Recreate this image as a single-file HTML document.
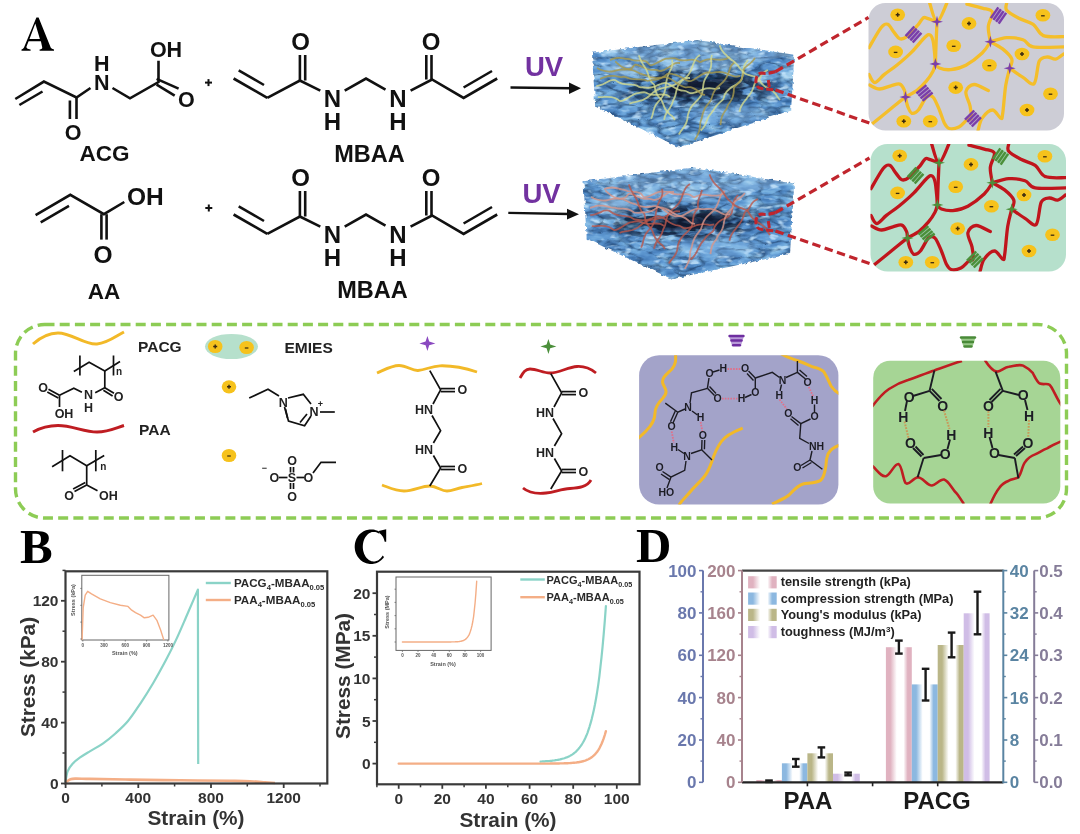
<!DOCTYPE html>
<html><head><meta charset="utf-8"><style>
html,body{margin:0;padding:0;background:#fff;}
svg{display:block;filter:blur(0.65px);}
</style></head><body>
<svg width="1080" height="834" viewBox="0 0 1080 834">
<rect width="1080" height="834" fill="#fff"/>
<text x="20.0" y="562.5" font-family='"Liberation Serif", serif' font-size="49" font-weight="bold" fill="#000" text-anchor="start" >B</text>
<path d="M379.15,531.72 L378.05,531.10 L376.90,530.57 L375.72,530.14 L374.52,529.81 L373.29,529.57 L372.05,529.44 L370.81,529.40 L369.56,529.47 L368.32,529.63 L367.10,529.90 L365.90,530.27 L364.74,530.73 L363.60,531.28 L362.52,531.93 L361.48,532.66 L360.49,533.47 L359.57,534.36 L358.72,535.33 L357.93,536.36 L357.23,537.45 L356.60,538.59 L356.06,539.78 L355.61,541.02 L355.24,542.28 L354.97,543.57 L354.79,544.88 L354.71,546.20 L354.72,547.52 L354.83,548.84 L355.03,550.15 L355.32,551.43 L355.71,552.69 L356.19,553.92 L356.75,555.10 L357.39,556.23 L358.12,557.30 L358.92,558.32 L359.79,559.26 L360.73,560.14 L361.73,560.93 L362.78,561.64 L363.88,562.26 L365.02,562.79 L366.20,563.23 L367.40,563.57 L368.63,563.82 L369.87,563.96 L371.11,564.00 L372.36,563.94 L373.60,563.78 L374.82,563.52 L376.02,563.16 L377.19,562.70 L378.32,562.16 L379.42,561.52 L380.46,560.79 L381.44,559.98 L382.37,559.10 L383.23,558.14 L384.02,557.11 L382.58,555.61 L382.05,556.48 L381.47,557.30 L380.85,558.06 L380.18,558.75 L379.48,559.37 L378.74,559.92 L377.98,560.39 L377.19,560.78 L376.38,561.09 L375.55,561.31 L374.72,561.45 L373.88,561.50 L373.04,561.46 L372.20,561.34 L371.37,561.14 L370.56,560.84 L369.77,560.47 L369.00,560.01 L368.25,559.48 L367.54,558.87 L366.87,558.19 L366.24,557.45 L365.65,556.64 L365.11,555.77 L364.62,554.85 L364.18,553.88 L363.80,552.87 L363.48,551.83 L363.22,550.75 L363.02,549.65 L362.88,548.53 L362.81,547.41 L362.80,546.27 L362.86,545.14 L362.98,544.02 L363.16,542.92 L363.41,541.84 L363.72,540.78 L364.08,539.76 L364.51,538.78 L364.98,537.85 L365.51,536.97 L366.09,536.15 L366.71,535.38 L367.37,534.69 L368.07,534.06 L368.81,533.51 L369.57,533.04 L370.36,532.64 L371.17,532.33 L371.99,532.10 L372.83,531.96 L373.67,531.90 L374.51,531.93 L375.35,532.05 L376.17,532.25 L376.99,532.54 L377.78,532.90 L378.56,533.35 L379.30,533.88 Z" fill="#000"/>
<path d="M378.6,531 L386.2,529.3 L386.2,541.8 L384.7,541.8 Q383.5,536 379.5,533 Z" fill="#000"/>
<text x="636.0" y="562.0" font-family='"Liberation Serif", serif' font-size="49" font-weight="bold" fill="#000" text-anchor="start" >D</text>
<path fill-rule="evenodd" fill="#000" d="M21.5,50.7 L21.5,49.4 Q23.2,49.2 24,47.6 L36.4,17.6 L38.6,17.6 L50.8,47.8 Q51.6,49.2 54,49.4 L54,50.7 L39.6,50.7 L39.6,49.4 Q42.6,49.3 42.2,47.2 L40.9,41.2 L28.6,41.2 L26.5,46.6 Q25.8,49.1 30.6,49.4 L30.6,50.7 Z M35.3,23.5 L39.9,38.9 L29.5,38.9 Z"/>
<polyline points="15.3,99.0 43.9,81.6 76.5,97.5 90.5,88.0" fill="none" stroke="#111" stroke-width="2.6" stroke-linejoin="miter" />
<line x1="19.4" y1="105.0" x2="42.5" y2="91.5" stroke="#111" stroke-width="2.6" />
<line x1="76.5" y1="97.5" x2="76.5" y2="119.0" stroke="#111" stroke-width="2.6" />
<line x1="69.9" y1="100.5" x2="69.9" y2="119.0" stroke="#111" stroke-width="2.6" />
<text x="101.8" y="89.5" font-family='"Liberation Sans", sans-serif' font-size="21.5" font-weight="bold" fill="#111" text-anchor="middle" >N</text>
<text x="101.8" y="70.5" font-family='"Liberation Sans", sans-serif' font-size="21.5" font-weight="bold" fill="#111" text-anchor="middle" >H</text>
<polyline points="112.5,88.0 130.0,98.3 158.5,82.1 158.5,60.7" fill="none" stroke="#111" stroke-width="2.6" stroke-linejoin="miter" />
<line x1="156.6" y1="78.9" x2="178.6" y2="88.6" stroke="#111" stroke-width="2.6" />
<line x1="156.6" y1="84.7" x2="174.7" y2="95.7" stroke="#111" stroke-width="2.6" />
<text x="166.0" y="57.0" font-family='"Liberation Sans", sans-serif' font-size="21.5" font-weight="bold" fill="#111" text-anchor="middle" >OH</text>
<text x="186.4" y="106.5" font-family='"Liberation Sans", sans-serif' font-size="21.5" font-weight="bold" fill="#111" text-anchor="middle" >O</text>
<text x="73.0" y="139.5" font-family='"Liberation Sans", sans-serif' font-size="21.5" font-weight="bold" fill="#111" text-anchor="middle" >O</text>
<text x="104.5" y="161.0" font-family='"Liberation Sans", sans-serif' font-size="22.5" font-weight="bold" fill="#111" text-anchor="middle" >ACG</text>
<line x1="205.0" y1="82.6" x2="212.0" y2="82.6" stroke="#111" stroke-width="2" />
<line x1="208.5" y1="79.1" x2="208.5" y2="86.1" stroke="#111" stroke-width="2" />
<line x1="205.3" y1="208.0" x2="212.3" y2="208.0" stroke="#111" stroke-width="2" />
<line x1="208.8" y1="204.5" x2="208.8" y2="211.5" stroke="#111" stroke-width="2" />
<line x1="233.6" y1="78.5" x2="267.3" y2="97.9" stroke="#111" stroke-width="2.6" />
<line x1="238.7" y1="70.3" x2="264.0" y2="85.0" stroke="#111" stroke-width="2.6" />
<polyline points="267.3,97.9 299.9,80.5 320.3,90.7" fill="none" stroke="#111" stroke-width="2.6" stroke-linejoin="miter" />
<line x1="299.9" y1="80.5" x2="299.9" y2="55.0" stroke="#111" stroke-width="2.6" />
<line x1="305.2" y1="80.5" x2="305.2" y2="55.0" stroke="#111" stroke-width="2.6" />
<text x="300.5" y="50.0" font-family='"Liberation Sans", sans-serif' font-size="24" font-weight="bold" fill="#111" text-anchor="middle" >O</text>
<text x="332.5" y="107.0" font-family='"Liberation Sans", sans-serif' font-size="24" font-weight="bold" fill="#111" text-anchor="middle" >N</text>
<text x="332.5" y="129.5" font-family='"Liberation Sans", sans-serif' font-size="24" font-weight="bold" fill="#111" text-anchor="middle" >H</text>
<polyline points="344.7,90.7 366.0,78.5 385.5,89.7" fill="none" stroke="#111" stroke-width="2.6" stroke-linejoin="miter" />
<text x="397.8" y="107.0" font-family='"Liberation Sans", sans-serif' font-size="24" font-weight="bold" fill="#111" text-anchor="middle" >N</text>
<text x="397.8" y="129.5" font-family='"Liberation Sans", sans-serif' font-size="24" font-weight="bold" fill="#111" text-anchor="middle" >H</text>
<polyline points="410.6,90.7 432.0,79.5 463.6,97.9 497.2,78.5" fill="none" stroke="#111" stroke-width="2.6" stroke-linejoin="miter" />
<line x1="431.5" y1="79.5" x2="431.5" y2="55.0" stroke="#111" stroke-width="2.6" />
<line x1="426.3" y1="79.5" x2="426.3" y2="55.0" stroke="#111" stroke-width="2.6" />
<text x="431.0" y="50.0" font-family='"Liberation Sans", sans-serif' font-size="24" font-weight="bold" fill="#111" text-anchor="middle" >O</text>
<line x1="463.6" y1="87.5" x2="492.0" y2="71.0" stroke="#111" stroke-width="2.6" />
<text x="369.5" y="161.5" font-family='"Liberation Sans", sans-serif' font-size="23.5" font-weight="bold" fill="#111" text-anchor="middle" >MBAA</text>
<line x1="233.6" y1="214.5" x2="267.3" y2="233.9" stroke="#111" stroke-width="2.6" />
<line x1="238.7" y1="206.3" x2="264.0" y2="221.0" stroke="#111" stroke-width="2.6" />
<polyline points="267.3,233.9 299.9,216.5 320.3,226.7" fill="none" stroke="#111" stroke-width="2.6" stroke-linejoin="miter" />
<line x1="299.9" y1="216.5" x2="299.9" y2="191.0" stroke="#111" stroke-width="2.6" />
<line x1="305.2" y1="216.5" x2="305.2" y2="191.0" stroke="#111" stroke-width="2.6" />
<text x="300.5" y="186.0" font-family='"Liberation Sans", sans-serif' font-size="24" font-weight="bold" fill="#111" text-anchor="middle" >O</text>
<text x="332.5" y="243.0" font-family='"Liberation Sans", sans-serif' font-size="24" font-weight="bold" fill="#111" text-anchor="middle" >N</text>
<text x="332.5" y="265.5" font-family='"Liberation Sans", sans-serif' font-size="24" font-weight="bold" fill="#111" text-anchor="middle" >H</text>
<polyline points="344.7,226.7 366.0,214.5 385.5,225.7" fill="none" stroke="#111" stroke-width="2.6" stroke-linejoin="miter" />
<text x="397.8" y="243.0" font-family='"Liberation Sans", sans-serif' font-size="24" font-weight="bold" fill="#111" text-anchor="middle" >N</text>
<text x="397.8" y="265.5" font-family='"Liberation Sans", sans-serif' font-size="24" font-weight="bold" fill="#111" text-anchor="middle" >H</text>
<polyline points="410.6,226.7 432.0,215.5 463.6,233.9 497.2,214.5" fill="none" stroke="#111" stroke-width="2.6" stroke-linejoin="miter" />
<line x1="431.5" y1="215.5" x2="431.5" y2="191.0" stroke="#111" stroke-width="2.6" />
<line x1="426.3" y1="215.5" x2="426.3" y2="191.0" stroke="#111" stroke-width="2.6" />
<text x="431.0" y="186.0" font-family='"Liberation Sans", sans-serif' font-size="24" font-weight="bold" fill="#111" text-anchor="middle" >O</text>
<line x1="463.6" y1="223.5" x2="492.0" y2="207.0" stroke="#111" stroke-width="2.6" />
<text x="372.5" y="297.5" font-family='"Liberation Sans", sans-serif' font-size="23.5" font-weight="bold" fill="#111" text-anchor="middle" >MBAA</text>
<polyline points="35.6,215.2 70.3,194.8 103.9,214.2 124.3,202.0" fill="none" stroke="#111" stroke-width="2.6" stroke-linejoin="miter" />
<line x1="40.7" y1="222.3" x2="69.0" y2="205.8" stroke="#111" stroke-width="2.6" />
<line x1="101.4" y1="214.2" x2="101.4" y2="239.6" stroke="#111" stroke-width="2.6" />
<line x1="106.6" y1="214.2" x2="106.6" y2="239.6" stroke="#111" stroke-width="2.6" />
<text x="145.3" y="204.5" font-family='"Liberation Sans", sans-serif' font-size="24.5" font-weight="bold" fill="#111" text-anchor="middle" >OH</text>
<text x="103.0" y="262.5" font-family='"Liberation Sans", sans-serif' font-size="24.5" font-weight="bold" fill="#111" text-anchor="middle" >O</text>
<text x="104.0" y="298.5" font-family='"Liberation Sans", sans-serif' font-size="22.5" font-weight="bold" fill="#111" text-anchor="middle" >AA</text>
<text x="544.0" y="75.8" font-family='"Liberation Sans", sans-serif' font-size="27.5" font-weight="bold" fill="#7232a0" text-anchor="middle" >UV</text>
<line x1="510.5" y1="87.5" x2="572.0" y2="88.2" stroke="#111" stroke-width="2.4" />
<polygon points="569,82.6 581,88.3 569,94" fill="#111"/>
<text x="541.5" y="202.5" font-family='"Liberation Sans", sans-serif' font-size="27.5" font-weight="bold" fill="#7232a0" text-anchor="middle" >UV</text>
<line x1="508.3" y1="212.9" x2="569.0" y2="214.0" stroke="#111" stroke-width="2.4" />
<polygon points="567,208.8 579,214.2 567,219.6" fill="#111"/>
<defs>
<filter id="tex" x="0" y="0" width="100%" height="100%" color-interpolation-filters="sRGB">
 <feTurbulence type="fractalNoise" baseFrequency="0.05 0.11" numOctaves="3" seed="7" result="n"/>
 <feColorMatrix in="n" type="matrix" values="1 0 0 0 0  1 0 0 0 0  1 0 0 0 0  0 0 0 0 1" result="g"/>
 <feComponentTransfer in="g">
  <feFuncR type="table" tableValues="0.12 0.22 0.31 0.40 0.52 0.70 0.88"/>
  <feFuncG type="table" tableValues="0.28 0.42 0.53 0.63 0.74 0.86 0.96"/>
  <feFuncB type="table" tableValues="0.46 0.64 0.77 0.85 0.91 0.96 0.99"/>
 </feComponentTransfer>
</filter>
<filter id="tex2" x="0" y="0" width="100%" height="100%" color-interpolation-filters="sRGB">
 <feTurbulence type="turbulence" baseFrequency="0.05 0.12" numOctaves="2" seed="4" result="n"/>
 <feColorMatrix in="n" type="matrix" values="0 0 0 0 0.06  0 0 0 0 0.16  0 0 0 0 0.30  -3.6 0 0 0 1.05" />
 <feGaussianBlur stdDeviation="0.5"/>
</filter>
<filter id="tex3" x="0" y="0" width="100%" height="100%" color-interpolation-filters="sRGB">
 <feTurbulence type="fractalNoise" baseFrequency="0.09 0.2" numOctaves="2" seed="12" result="n"/>
 <feColorMatrix in="n" type="matrix" values="0 0 0 0 0.78  0 0 0 0 0.9  0 0 0 0 0.99  5 0 0 0 -2.9" />
</filter>
<filter id="dk" x="0" y="0" width="100%" height="100%" color-interpolation-filters="sRGB">
 <feTurbulence type="fractalNoise" baseFrequency="0.07 0.17" numOctaves="2" seed="21" result="n"/>
 <feColorMatrix in="n" type="matrix" values="0 0 0 0 0.03  0 0 0 0 0.08  0 0 0 0 0.17  -8 0 0 0 4.5" />
</filter>
<radialGradient id="bandg" cx="0.5" cy="0.5" r="0.5"><stop offset="0" stop-color="#fff"/><stop offset="0.6" stop-color="#fff" stop-opacity="0.7"/><stop offset="1" stop-color="#fff" stop-opacity="0"/></radialGradient>
<filter id="rough" x="-5%" y="-5%" width="110%" height="110%">
 <feTurbulence type="fractalNoise" baseFrequency="0.22" numOctaves="2" seed="2" result="t"/>
 <feDisplacementMap in="SourceGraphic" in2="t" scale="4" xChannelSelector="R" yChannelSelector="G"/>
</filter>
<filter id="soft"><feGaussianBlur stdDeviation="2.5"/></filter>
<filter id="sb" x="-30%" y="-30%" width="160%" height="160%"><feGaussianBlur stdDeviation="0.7"/></filter>
<mask id="mk1"><polygon points="592,52.7 697.4,39.9 794.3,54.8 791.1,110.2 679,147.4 595.2,105.9" fill="#fff" filter="url(#rough)"/></mask>
<mask id="mk2"><polygon points="583.5,181.3 694.2,167.5 794.3,183.4 790,253.7 672,279.3 586.7,238.8" fill="#fff" filter="url(#rough)"/></mask>
</defs>
<g mask="url(#mk1)">
<rect x="586" y="33.9" width="214.29999999999995" height="119.5" fill="#4f84ba"/>
<rect x="586" y="33.9" width="214.29999999999995" height="119.5" filter="url(#tex)" opacity="0.9"/>
<rect x="586" y="33.9" width="214.29999999999995" height="119.5" filter="url(#tex2)" opacity="0.5"/>
<rect x="586" y="33.9" width="214.29999999999995" height="119.5" filter="url(#tex3)" opacity="0.8"/>
<polygon points="592,52.7 697.4,39.9 794.3,54.8 696.9,73.6" fill="#cfe6fa" opacity="0.22"/>
<mask id="bmmk1"><ellipse cx="695" cy="88" rx="95" ry="22" fill="url(#bandg)"/></mask>
<rect x="586" y="33.9" width="214.29999999999995" height="119.5" filter="url(#dk)" mask="url(#bmmk1)" opacity="1"/>
<g filter="url(#soft)"><ellipse cx="705" cy="88" rx="40" ry="8" fill="#0b1c30" opacity="0.8" transform="rotate(-6 705 88)"/><ellipse cx="647" cy="90" rx="14" ry="4" fill="#12304d" opacity="0.6"/><ellipse cx="625" cy="70" rx="22" ry="6" fill="#bfe0f7" opacity="0.45"/><ellipse cx="730" cy="114" rx="40" ry="9" fill="#8ec0ea" opacity="0.35"/></g>
<path d="M597.0,68.0 C597.7,68.3 599.8,69.5 601.3,70.0 C602.7,70.5 604.2,71.0 605.7,71.2 C607.2,71.5 608.9,71.6 610.4,71.5 C611.9,71.5 613.2,71.1 614.6,70.8 C616.0,70.5 617.3,70.0 618.7,69.8 C620.1,69.6 621.6,69.7 623.0,69.6 C624.4,69.5 625.9,69.6 627.3,69.4 C628.7,69.2 630.0,69.2 631.4,68.4 C632.7,67.6 633.9,65.2 635.2,64.7 C636.5,64.3 638.0,65.2 639.3,65.7 C640.7,66.1 642.0,66.8 643.3,67.4 C644.7,67.9 646.0,68.6 647.3,69.0 C648.7,69.5 650.1,69.8 651.5,69.9 C652.9,70.0 654.3,69.7 655.8,69.8 C657.2,70.0 658.9,71.0 660.3,71.0 C661.8,71.0 663.1,70.3 664.4,69.8 C665.7,69.2 666.9,68.4 668.2,67.7 C669.4,66.9 670.6,66.0 671.8,65.2 C673.0,64.5 674.2,63.6 675.6,63.2 C676.9,62.8 679.3,63.0 680.0,63.0" fill="none" stroke="#a89a4c" stroke-width="1.8" opacity="0.8"/>
<path d="M596.3,86.1 C597.1,85.9 599.5,85.5 601.1,84.9 C602.6,84.4 604.1,83.6 605.6,82.9 C607.1,82.2 608.5,81.0 610.1,80.6 C611.6,80.1 613.5,79.8 615.0,80.1 C616.4,80.4 617.5,81.8 618.8,82.4 C620.2,83.0 621.5,83.5 623.0,83.8 C624.4,84.2 625.9,84.3 627.4,84.4 C628.9,84.5 630.4,84.5 631.9,84.7 C633.4,84.8 634.9,85.0 636.2,85.4 C637.6,85.8 638.5,86.8 639.9,87.1 C641.2,87.5 642.8,87.4 644.2,87.5 C645.6,87.6 647.1,87.8 648.5,87.8 C649.9,87.7 651.3,87.5 652.7,87.2 C654.1,86.9 655.4,86.3 656.7,85.7 C658.1,85.2 659.3,84.4 660.7,84.0 C662.2,83.5 663.9,82.7 665.4,82.8 C666.8,82.9 668.1,83.8 669.4,84.5 C670.7,85.2 672.0,86.1 673.3,86.9 C674.6,87.6 675.8,88.5 677.2,89.1 C678.5,89.7 679.9,90.2 681.3,90.5 C682.7,90.8 684.2,90.6 685.7,91.0 C687.2,91.5 688.7,92.9 690.2,93.1 C691.6,93.4 693.0,92.9 694.4,92.6 C695.9,92.3 697.2,91.7 698.6,91.2 C700.0,90.7 701.4,90.0 702.8,89.5 C704.1,89.1 705.5,88.6 707.0,88.4 C708.4,88.2 709.9,88.2 711.3,88.3 C712.8,88.4 714.3,88.9 715.7,88.8 C717.2,88.8 719.3,88.1 720.0,88.0" fill="none" stroke="#d4dc90" stroke-width="1.8" opacity="0.8"/>
<path d="M597.8,97.2 C598.5,97.2 600.8,97.2 602.3,97.1 C603.9,97.0 605.4,96.8 606.9,96.8 C608.5,96.8 610.0,96.9 611.4,97.1 C612.9,97.4 614.3,97.7 615.7,98.4 C617.2,99.1 618.9,100.9 620.4,101.1 C621.8,101.3 623.2,100.4 624.5,99.8 C625.9,99.2 627.1,98.4 628.4,97.6 C629.7,96.8 630.9,95.9 632.3,95.2 C633.6,94.5 634.9,93.9 636.3,93.4 C637.7,93.0 639.1,92.8 640.6,92.6 C642.0,92.4 643.5,92.1 644.9,92.3 C646.3,92.5 647.6,93.6 648.9,94.0 C650.3,94.4 651.7,94.7 653.1,94.8 C654.5,94.9 656.0,94.8 657.4,94.8 C658.9,94.7 660.4,94.5 661.8,94.5 C663.3,94.5 664.7,94.5 666.1,94.9 C667.5,95.3 669.3,96.6 670.0,97.0" fill="none" stroke="#d4dc90" stroke-width="1.8" opacity="0.8"/>
<path d="M610.0,60.2 C610.7,59.9 612.6,59.1 613.9,58.7 C615.2,58.3 616.5,58.0 617.9,57.9 C619.2,57.8 620.6,57.9 621.9,58.1 C623.3,58.2 624.8,58.6 626.0,58.8 C627.3,59.0 628.4,58.9 629.6,59.2 C630.9,59.4 632.3,60.0 633.7,60.3 C635.1,60.5 636.5,60.5 638.0,60.6 C639.4,60.6 640.9,60.6 642.3,60.7 C643.7,60.9 645.0,60.8 646.4,61.6 C647.7,62.3 648.9,64.8 650.3,65.2 C651.6,65.6 653.1,64.6 654.4,64.1 C655.8,63.6 657.1,62.8 658.4,62.1 C659.7,61.5 661.0,60.7 662.3,60.1 C663.6,59.5 665.0,59.0 666.4,58.7 C667.8,58.5 669.2,58.4 670.7,58.3 C672.1,58.3 673.5,58.2 674.9,58.4 C676.3,58.7 677.6,59.6 679.0,59.9 C680.3,60.2 681.7,60.4 683.2,60.4 C684.6,60.4 686.0,60.2 687.5,60.1 C688.9,60.0 690.4,59.7 691.8,59.7 C693.2,59.7 694.7,59.7 696.0,60.1 C697.4,60.5 698.7,62.0 700.0,62.1 C701.4,62.1 702.7,60.8 704.1,60.3 C705.5,59.9 706.9,59.5 708.4,59.3 C709.8,59.1 711.3,59.2 712.8,59.2 C714.2,59.3 715.7,59.6 717.2,59.6 C718.7,59.7 720.2,59.8 721.6,59.7 C723.1,59.5 724.5,59.2 725.9,58.8 C727.3,58.3 729.3,57.3 730.0,57.0" fill="none" stroke="#a89a4c" stroke-width="1.8" opacity="0.8"/>
<path d="M664.1,119.7 C664.3,119.0 664.7,116.9 665.2,115.6 C665.7,114.3 666.5,113.0 667.2,111.8 C668.0,110.6 668.9,109.4 669.7,108.2 C670.5,106.9 671.2,105.7 671.8,104.4 C672.4,103.2 672.6,101.9 673.1,100.6 C673.6,99.3 674.4,98.1 674.9,96.7 C675.4,95.4 675.7,93.9 676.0,92.5 C676.4,91.1 676.6,89.7 677.1,88.3 C677.6,86.9 678.1,85.5 678.9,84.3 C679.8,83.1 680.9,82.0 682.0,80.9 C683.1,79.8 684.4,78.9 685.5,77.8 C686.5,76.7 687.7,75.7 688.6,74.5 C689.5,73.2 690.2,71.9 690.9,70.6 C691.5,69.2 692.0,67.7 692.5,66.3 C693.1,64.8 693.5,63.3 694.2,61.9 C694.8,60.6 695.5,59.2 696.4,58.0 C697.4,56.9 699.4,55.5 700.0,55.0" fill="none" stroke="#d4dc90" stroke-width="1.8" opacity="0.8"/>
<path d="M678.8,134.5 C679.2,133.9 680.3,132.0 681.1,130.8 C682.0,129.6 683.0,128.5 683.8,127.2 C684.6,126.0 685.4,124.8 686.0,123.5 C686.6,122.2 687.0,120.8 687.3,119.4 C687.6,117.9 687.6,116.4 687.9,114.9 C688.3,113.5 688.8,111.9 689.5,110.4 C690.1,109.0 690.8,107.6 691.7,106.4 C692.6,105.1 693.7,103.9 694.8,102.8 C695.9,101.6 697.1,100.6 698.2,99.3 C699.2,98.1 700.5,96.8 701.2,95.5 C701.9,94.1 702.2,92.8 702.5,91.3 C702.8,89.9 702.9,88.4 703.1,87.0 C703.3,85.5 703.4,84.0 703.8,82.6 C704.2,81.2 704.6,79.8 705.3,78.5 C705.9,77.3 706.9,76.1 707.6,74.9 C708.3,73.7 708.9,72.4 709.5,71.1 C710.0,69.9 710.6,68.6 710.9,67.3 C711.2,65.9 711.3,64.6 711.3,63.2 C711.3,61.8 710.9,60.3 711.1,59.0 C711.2,57.6 711.8,55.7 712.0,55.0" fill="none" stroke="#d4dc90" stroke-width="1.8" opacity="0.8"/>
<path d="M694.7,139.9 C695.1,139.2 696.4,137.2 697.1,135.8 C697.8,134.4 698.6,133.1 699.0,131.6 C699.5,130.1 699.8,128.6 700.0,127.1 C700.2,125.5 700.1,123.9 700.4,122.3 C700.7,120.8 701.4,119.5 701.8,117.9 C702.2,116.4 702.4,114.6 703.0,113.0 C703.5,111.5 704.1,110.0 704.9,108.5 C705.7,107.1 706.7,105.7 707.7,104.4 C708.7,103.0 710.0,101.8 710.7,100.5 C711.5,99.1 711.7,97.6 712.2,96.3 C712.7,94.9 713.2,93.4 713.8,92.2 C714.5,90.9 715.3,89.7 716.2,88.5 C717.1,87.4 718.3,86.4 719.3,85.4 C720.4,84.4 721.6,83.5 722.7,82.4 C723.7,81.3 724.8,80.0 725.7,78.7 C726.6,77.4 727.2,75.9 727.9,74.5 C728.5,73.0 729.0,71.4 729.6,69.9 C730.2,68.3 730.5,66.7 731.4,65.4 C732.3,64.1 734.4,62.6 735.0,62.0" fill="none" stroke="#a89a4c" stroke-width="1.8" opacity="0.8"/>
<path d="M700.7,130.5 C701.2,130.0 702.7,128.6 703.5,127.4 C704.4,126.3 705.0,125.1 705.6,123.8 C706.2,122.5 706.6,121.1 707.2,119.8 C707.8,118.5 708.3,117.1 709.0,115.9 C709.8,114.8 710.8,113.8 711.6,112.7 C712.4,111.5 713.2,110.5 714.0,109.3 C714.8,108.2 715.6,106.8 716.6,105.6 C717.5,104.5 718.7,103.4 719.8,102.4 C720.9,101.3 722.4,100.5 723.2,99.2 C724.0,98.0 724.1,96.1 724.7,94.7 C725.4,93.4 726.2,92.2 727.1,91.1 C728.1,90.1 729.1,89.1 730.2,88.2 C731.3,87.3 732.6,86.6 733.9,85.9 C735.1,85.1 736.4,84.5 737.6,83.6 C738.9,82.7 740.4,81.7 741.2,80.5 C742.0,79.3 742.0,77.7 742.3,76.3 C742.5,74.8 742.6,73.3 742.8,71.9 C743.1,70.4 743.2,68.9 743.7,67.5 C744.1,66.2 744.6,64.8 745.4,63.6 C746.1,62.3 747.6,60.6 748.0,60.0" fill="none" stroke="#d4dc90" stroke-width="1.8" opacity="0.8"/>
<path d="M651.1,118.6 C651.4,118.0 652.2,116.1 652.6,114.7 C653.0,113.4 653.2,111.9 653.6,110.6 C654.0,109.2 654.3,107.8 654.9,106.6 C655.5,105.3 656.2,104.2 657.1,103.1 C657.9,102.0 659.0,101.1 659.9,100.0 C660.8,98.8 661.7,97.6 662.5,96.4 C663.2,95.1 663.9,93.8 664.4,92.5 C664.9,91.1 665.1,89.7 665.4,88.2 C665.6,86.8 665.7,85.2 665.9,83.8 C666.2,82.4 666.5,81.1 666.8,79.8 C667.1,78.4 667.3,77.1 667.8,75.8 C668.2,74.5 668.9,73.3 669.5,72.0 C670.1,70.7 670.9,69.5 671.4,68.2 C671.8,66.9 672.3,65.6 672.5,64.3 C672.6,62.9 672.1,60.7 672.0,60.0" fill="none" stroke="#d4dc90" stroke-width="1.8" opacity="0.8"/>
<path d="M720.5,125.2 C720.6,124.5 720.8,122.2 721.0,120.8 C721.3,119.3 721.5,117.9 722.0,116.5 C722.5,115.2 723.1,113.9 723.9,112.6 C724.6,111.4 725.7,110.3 726.4,109.0 C727.1,107.7 727.3,106.3 728.0,105.0 C728.8,103.7 729.9,102.5 730.7,101.1 C731.5,99.8 732.2,98.4 732.7,97.0 C733.2,95.5 733.5,94.0 733.7,92.4 C734.0,90.9 733.6,88.9 734.1,87.5 C734.7,86.2 736.1,85.5 737.1,84.4 C738.0,83.4 739.1,82.4 739.9,81.3 C740.8,80.2 741.5,79.1 742.1,77.8 C742.7,76.6 743.1,75.3 743.4,73.8 C743.8,72.4 743.3,70.6 744.0,69.2 C744.7,67.8 746.3,66.6 747.6,65.4 C748.9,64.2 750.5,63.3 751.7,62.0 C753.0,60.8 754.5,58.7 755.0,58.0" fill="none" stroke="#a89a4c" stroke-width="1.8" opacity="0.8"/>
<path d="M739.4,111.7 C739.6,110.9 740.2,108.6 740.8,107.2 C741.5,105.8 742.3,104.4 743.2,103.1 C744.1,101.8 745.2,100.6 746.2,99.3 C747.1,98.1 748.0,96.9 748.9,95.6 C749.8,94.4 750.8,93.2 751.5,91.9 C752.2,90.6 752.8,89.1 753.3,87.7 C753.9,86.3 754.1,84.6 754.9,83.3 C755.7,82.1 757.3,81.5 758.3,80.3 C759.3,79.1 759.9,77.5 760.8,76.2 C761.7,74.8 762.6,73.4 763.8,72.4 C764.9,71.4 767.3,70.4 768.0,70.0" fill="none" stroke="#d4dc90" stroke-width="1.8" opacity="0.8"/>
<path d="M629.4,103.8 C630.1,103.6 632.2,102.7 633.6,102.3 C635.1,101.9 636.7,101.6 638.1,101.3 C639.6,100.9 641.1,100.6 642.5,100.1 C643.9,99.5 645.3,98.8 646.5,98.0 C647.8,97.2 648.9,96.2 650.1,95.2 C651.3,94.3 652.4,93.2 653.6,92.3 C654.8,91.4 656.1,90.5 657.4,89.8 C658.8,89.2 660.2,88.7 661.6,88.3 C663.1,87.9 664.7,87.7 666.1,87.3 C667.6,86.9 669.0,86.6 670.4,86.1 C671.8,85.7 673.1,85.3 674.4,84.7 C675.7,84.1 676.9,83.2 678.1,82.4 C679.3,81.7 680.5,80.7 681.7,80.0 C683.0,79.3 684.2,78.5 685.6,78.2 C687.0,77.8 689.3,78.0 690.0,78.0" fill="none" stroke="#d4dc90" stroke-width="1.8" opacity="0.8"/>
<path d="M615.3,61.4 C615.8,61.9 617.3,63.3 618.4,64.2 C619.4,65.1 620.4,66.1 621.6,66.8 C622.7,67.5 623.9,68.1 625.2,68.5 C626.5,69.0 627.9,69.2 629.2,69.6 C630.6,69.9 632.0,70.1 633.3,70.5 C634.6,70.9 635.9,71.5 637.0,72.0 C638.2,72.5 638.9,73.2 640.2,73.7 C641.4,74.2 642.9,74.4 644.2,74.8 C645.6,75.3 646.9,76.0 648.3,76.4 C649.6,76.9 651.0,77.5 652.4,77.7 C653.7,78.0 655.1,78.1 656.5,78.1 C657.9,78.1 659.4,77.8 660.8,77.6 C662.3,77.5 663.9,77.0 665.3,77.1 C666.8,77.3 668.3,77.9 669.6,78.5 C671.0,79.1 672.3,79.9 673.6,80.7 C674.9,81.5 676.1,82.6 677.3,83.4 C678.6,84.3 679.9,85.2 681.2,85.8 C682.6,86.5 683.9,87.1 685.4,87.3 C687.0,87.6 688.9,86.9 690.4,87.1 C691.9,87.4 693.1,88.0 694.3,88.6 C695.5,89.2 696.7,90.1 697.8,90.9 C698.9,91.7 699.8,93.0 701.1,93.7 C702.3,94.4 704.3,94.8 705.0,95.0" fill="none" stroke="#a89a4c" stroke-width="1.8" opacity="0.8"/>
<path d="M719.5,45.3 C719.9,46.0 720.7,48.2 721.4,49.5 C722.2,50.7 723.1,51.9 724.1,53.1 C725.2,54.2 726.4,55.2 727.5,56.3 C728.6,57.3 729.5,58.3 730.6,59.2 C731.8,60.2 733.3,61.0 734.5,62.0 C735.7,63.1 736.8,64.3 737.9,65.6 C738.9,66.8 739.8,68.2 740.9,69.4 C742.0,70.7 743.2,72.2 744.4,73.1 C745.6,74.0 746.9,74.4 748.3,74.9 C749.6,75.4 751.1,75.6 752.5,76.0 C753.9,76.4 755.6,76.4 756.7,77.1 C757.9,77.8 758.7,79.3 759.6,80.4 C760.4,81.5 761.0,82.8 762.0,83.8 C762.9,84.8 763.9,85.6 765.0,86.4 C766.1,87.2 767.4,87.8 768.6,88.5 C769.8,89.2 771.1,89.9 772.2,90.7 C773.3,91.5 774.3,92.4 775.2,93.4 C776.1,94.4 776.7,95.7 777.5,96.8 C778.3,97.9 779.6,99.5 780.0,100.0" fill="none" stroke="#d4dc90" stroke-width="1.8" opacity="0.8"/>
<path d="M638.8,55.4 C639.1,56.2 640.0,58.7 640.8,60.3 C641.6,61.9 642.6,63.5 643.4,65.0 C644.3,66.5 645.3,67.9 646.0,69.3 C646.8,70.7 647.3,72.1 647.9,73.5 C648.4,74.9 648.8,76.5 649.4,77.9 C650.0,79.3 650.6,80.7 651.4,82.0 C652.2,83.2 653.7,83.8 654.4,85.2 C655.0,86.6 654.9,88.7 655.4,90.4 C656.0,92.1 656.5,93.8 657.5,95.3 C658.4,96.8 660.1,98.0 661.0,99.3 C661.9,100.6 662.2,101.8 662.8,103.1 C663.4,104.4 663.8,105.8 664.4,107.1 C665.0,108.4 665.7,109.6 666.5,110.8 C667.3,111.9 668.3,112.9 669.3,113.9 C670.3,114.8 671.7,115.5 672.6,116.6 C673.6,117.6 674.6,119.4 675.0,120.0" fill="none" stroke="#d4dc90" stroke-width="1.8" opacity="0.8"/>
<path d="M600.1,78.8 C600.7,78.6 602.8,77.9 604.1,77.4 C605.5,77.0 606.9,76.5 608.2,76.2 C609.6,75.9 611.0,75.8 612.4,75.8 C613.8,75.8 615.2,76.1 616.6,76.3 C618.1,76.6 619.5,77.0 620.9,77.1 C622.3,77.2 623.4,76.5 624.8,76.8 C626.2,77.0 627.7,78.1 629.3,78.5 C630.8,78.9 632.4,79.1 634.0,79.2 C635.6,79.3 637.3,79.3 638.9,79.3 C640.5,79.4 642.2,79.4 643.7,79.7 C645.1,79.9 646.2,80.8 647.6,80.9 C648.9,81.0 650.4,80.3 651.9,80.1 C653.3,79.9 654.9,79.8 656.3,79.5 C657.7,79.3 659.1,78.9 660.5,78.4 C661.8,77.9 663.0,77.1 664.3,76.4 C665.6,75.6 666.7,74.1 668.1,73.7 C669.5,73.3 671.2,73.8 672.7,74.1 C674.2,74.3 675.7,74.7 677.1,75.3 C678.5,75.8 679.9,76.6 681.3,77.3 C682.7,78.1 683.9,78.9 685.4,79.6 C686.9,80.2 688.9,81.3 690.4,81.2 C692.0,81.1 693.3,79.9 694.7,79.1 C696.0,78.4 697.3,77.3 698.7,76.5 C700.0,75.7 701.4,74.8 702.8,74.1 C704.2,73.4 705.7,72.7 707.2,72.5 C708.7,72.3 710.4,72.8 711.9,72.8 C713.4,72.7 714.7,72.4 716.1,72.2 C717.4,72.1 718.8,71.9 720.2,72.0 C721.5,72.0 722.9,72.2 724.2,72.6 C725.5,72.9 726.7,73.6 728.0,74.1 C729.3,74.6 730.6,75.3 731.9,75.7 C733.2,76.2 734.5,76.7 735.8,76.7 C737.2,76.8 739.3,76.1 740.0,76.0" fill="none" stroke="#a89a4c" stroke-width="1.8" opacity="0.8"/>
</g>
<g mask="url(#mk2)">
<rect x="577.5" y="161.5" width="222.79999999999995" height="123.80000000000001" fill="#4f84ba"/>
<rect x="577.5" y="161.5" width="222.79999999999995" height="123.80000000000001" filter="url(#tex)" opacity="0.9"/>
<rect x="577.5" y="161.5" width="222.79999999999995" height="123.80000000000001" filter="url(#tex2)" opacity="0.5"/>
<rect x="577.5" y="161.5" width="222.79999999999995" height="123.80000000000001" filter="url(#tex3)" opacity="0.8"/>
<polygon points="583.5,181.3 694.2,167.5 794.3,183.4 691.5999999999999,203.20000000000002" fill="#cfe6fa" opacity="0.22"/>
<mask id="bmmk2"><ellipse cx="682" cy="222" rx="95" ry="22" fill="url(#bandg)"/></mask>
<rect x="577.5" y="161.5" width="222.79999999999995" height="123.80000000000001" filter="url(#dk)" mask="url(#bmmk2)" opacity="1"/>
<g filter="url(#soft)"><ellipse cx="692" cy="222" rx="40" ry="8" fill="#0b1c30" opacity="0.8" transform="rotate(-6 692 222)"/><ellipse cx="634" cy="224" rx="14" ry="4" fill="#12304d" opacity="0.6"/><ellipse cx="612" cy="204" rx="22" ry="6" fill="#bfe0f7" opacity="0.45"/><ellipse cx="717" cy="248" rx="40" ry="9" fill="#8ec0ea" opacity="0.35"/></g>
<path d="M591.0,197.0 C591.7,197.3 593.8,198.5 595.3,199.0 C596.7,199.5 598.2,200.0 599.7,200.2 C601.2,200.5 602.9,200.6 604.4,200.5 C605.9,200.5 607.2,200.1 608.6,199.8 C610.0,199.5 611.3,199.0 612.7,198.8 C614.1,198.6 615.6,198.7 617.0,198.6 C618.4,198.5 619.9,198.6 621.3,198.4 C622.7,198.2 624.0,198.2 625.4,197.4 C626.7,196.6 627.9,194.2 629.2,193.7 C630.5,193.3 632.0,194.2 633.3,194.7 C634.7,195.1 636.0,195.8 637.3,196.4 C638.7,196.9 640.0,197.6 641.3,198.0 C642.7,198.5 644.1,198.8 645.5,198.9 C646.9,199.0 648.3,198.7 649.8,198.8 C651.2,199.0 652.9,200.0 654.3,200.0 C655.8,200.0 657.1,199.3 658.4,198.8 C659.7,198.2 660.9,197.4 662.2,196.7 C663.4,195.9 664.6,195.0 665.8,194.2 C667.0,193.5 668.2,192.6 669.6,192.2 C670.9,191.8 673.3,192.0 674.0,192.0" fill="none" stroke="#d8968a" stroke-width="1.8" opacity="0.8"/>
<path d="M590.2,215.1 C591.0,215.0 593.4,214.7 595.0,214.3 C596.5,213.9 598.1,213.3 599.6,212.7 C601.1,212.1 602.6,211.0 604.1,210.7 C605.7,210.4 607.5,210.2 608.9,210.6 C610.4,211.0 611.4,212.4 612.8,213.1 C614.1,213.8 615.5,214.4 616.9,214.8 C618.3,215.2 619.8,215.4 621.4,215.6 C622.9,215.9 624.4,215.9 625.9,216.2 C627.4,216.4 629.0,216.7 630.3,217.2 C631.6,217.7 632.6,218.7 633.9,219.1 C635.2,219.5 636.8,219.6 638.2,219.8 C639.6,220.0 641.0,220.2 642.4,220.3 C643.9,220.3 645.2,220.2 646.6,220.0 C648.0,219.7 649.3,219.2 650.7,218.7 C652.1,218.3 653.3,217.6 654.8,217.2 C656.2,216.8 658.0,216.1 659.5,216.3 C660.9,216.5 662.2,217.5 663.5,218.3 C664.8,219.0 666.0,220.0 667.3,220.8 C668.5,221.7 669.8,222.6 671.1,223.3 C672.4,224.0 673.8,224.6 675.2,225.0 C676.7,225.4 678.2,225.2 679.7,225.8 C681.2,226.3 682.6,227.8 684.1,228.1 C685.5,228.5 687.0,228.1 688.4,227.8 C689.8,227.6 691.2,227.1 692.6,226.6 C694.0,226.2 695.4,225.6 696.8,225.2 C698.2,224.8 699.6,224.4 701.0,224.3 C702.5,224.1 703.9,224.2 705.4,224.4 C706.8,224.5 708.3,225.1 709.7,225.1 C711.2,225.1 713.3,224.6 714.0,224.5" fill="none" stroke="#b8574c" stroke-width="1.8" opacity="0.8"/>
<path d="M591.8,226.2 C592.5,226.2 594.8,226.2 596.3,226.1 C597.9,226.0 599.4,225.8 600.9,225.8 C602.5,225.8 604.0,225.9 605.4,226.1 C606.9,226.4 608.3,226.7 609.7,227.4 C611.2,228.1 612.9,229.9 614.4,230.1 C615.8,230.3 617.2,229.4 618.5,228.8 C619.9,228.2 621.1,227.4 622.4,226.6 C623.7,225.8 624.9,224.9 626.3,224.2 C627.6,223.5 628.9,222.9 630.3,222.4 C631.7,222.0 633.1,221.8 634.6,221.6 C636.0,221.4 637.5,221.1 638.9,221.3 C640.3,221.5 641.6,222.6 642.9,223.0 C644.3,223.4 645.7,223.7 647.1,223.8 C648.5,223.9 650.0,223.8 651.4,223.8 C652.9,223.7 654.4,223.5 655.8,223.5 C657.3,223.5 658.7,223.5 660.1,223.9 C661.5,224.3 663.3,225.6 664.0,226.0" fill="none" stroke="#b8574c" stroke-width="1.8" opacity="0.8"/>
<path d="M604.0,189.2 C604.7,189.0 606.7,188.3 608.0,188.0 C609.3,187.7 610.6,187.5 612.0,187.5 C613.3,187.5 614.6,187.7 616.0,188.0 C617.3,188.2 618.7,188.7 620.0,189.0 C621.3,189.3 622.3,189.3 623.6,189.6 C624.8,190.0 626.2,190.7 627.6,191.0 C629.0,191.4 630.5,191.5 631.9,191.7 C633.4,191.8 634.9,191.9 636.3,192.1 C637.7,192.4 639.1,192.4 640.5,193.3 C641.8,194.1 642.9,196.7 644.2,197.2 C645.5,197.7 647.0,196.8 648.4,196.3 C649.7,195.9 651.0,195.2 652.4,194.6 C653.7,194.1 655.0,193.3 656.3,192.8 C657.7,192.4 659.0,191.9 660.4,191.7 C661.8,191.5 663.3,191.5 664.7,191.6 C666.1,191.6 667.5,191.6 668.9,191.9 C670.3,192.3 671.5,193.2 672.9,193.6 C674.3,194.0 675.7,194.3 677.1,194.4 C678.5,194.5 680.0,194.4 681.5,194.4 C682.9,194.3 684.4,194.2 685.9,194.2 C687.3,194.3 688.8,194.4 690.1,194.8 C691.5,195.3 692.7,197.0 694.0,197.1 C695.4,197.2 696.8,195.9 698.2,195.6 C699.6,195.2 701.0,194.8 702.4,194.7 C703.9,194.6 705.3,194.7 706.8,194.9 C708.2,195.0 709.7,195.3 711.2,195.5 C712.7,195.6 714.1,195.8 715.6,195.7 C717.0,195.7 718.4,195.4 719.8,195.1 C721.2,194.7 723.3,193.8 724.0,193.5" fill="none" stroke="#d8968a" stroke-width="1.8" opacity="0.8"/>
<path d="M654.1,248.7 C654.3,248.0 654.7,245.9 655.2,244.6 C655.7,243.3 656.5,242.0 657.2,240.8 C658.0,239.6 658.9,238.4 659.7,237.2 C660.5,235.9 661.2,234.7 661.8,233.4 C662.4,232.2 662.6,230.9 663.1,229.6 C663.6,228.3 664.4,227.1 664.9,225.7 C665.4,224.4 665.7,222.9 666.0,221.5 C666.4,220.1 666.6,218.7 667.1,217.3 C667.6,215.9 668.1,214.5 668.9,213.3 C669.8,212.1 670.9,211.0 672.0,209.9 C673.1,208.8 674.4,207.9 675.5,206.8 C676.5,205.7 677.7,204.7 678.6,203.5 C679.5,202.2 680.2,200.9 680.9,199.6 C681.5,198.2 682.0,196.7 682.5,195.3 C683.1,193.8 683.5,192.3 684.2,190.9 C684.8,189.6 685.5,188.2 686.4,187.0 C687.4,185.9 689.4,184.5 690.0,184.0" fill="none" stroke="#b8574c" stroke-width="1.8" opacity="0.8"/>
<path d="M668.9,263.5 C669.2,262.9 670.3,261.2 671.2,260.1 C672.0,259.0 673.0,258.0 673.8,256.9 C674.6,255.7 675.4,254.6 676.0,253.4 C676.6,252.2 677.0,250.9 677.3,249.6 C677.6,248.3 677.5,246.8 677.9,245.4 C678.3,244.1 678.9,242.6 679.5,241.2 C680.1,239.9 680.9,238.6 681.8,237.4 C682.6,236.2 683.7,235.2 684.8,234.1 C685.9,233.1 687.1,232.2 688.2,231.1 C689.2,230.0 690.5,228.7 691.2,227.5 C691.9,226.3 692.1,225.0 692.5,223.7 C692.8,222.3 692.9,220.9 693.1,219.6 C693.3,218.2 693.4,216.8 693.8,215.5 C694.2,214.2 694.6,212.9 695.3,211.7 C695.9,210.5 697.4,209.8 697.9,208.5 C698.3,207.1 697.8,205.2 697.9,203.6 C698.1,202.1 698.4,200.5 698.8,199.0 C699.2,197.5 700.0,196.0 700.6,194.5 C701.1,193.0 701.8,190.8 702.0,190.0" fill="none" stroke="#b8574c" stroke-width="1.8" opacity="0.8"/>
<path d="M684.7,268.9 C685.1,268.2 686.4,266.2 687.1,264.8 C687.8,263.4 688.6,262.1 689.0,260.6 C689.5,259.1 689.8,257.6 690.0,256.1 C690.2,254.5 690.1,252.9 690.4,251.3 C690.7,249.8 691.4,248.5 691.8,246.9 C692.2,245.4 692.4,243.6 693.0,242.0 C693.5,240.5 694.1,239.0 694.9,237.5 C695.7,236.1 696.7,234.7 697.7,233.4 C698.7,232.0 700.0,230.8 700.7,229.5 C701.5,228.1 701.7,226.6 702.2,225.3 C702.7,223.9 703.2,222.4 703.8,221.2 C704.5,219.9 705.3,218.7 706.2,217.5 C707.1,216.4 708.3,215.4 709.3,214.4 C710.4,213.4 711.6,212.5 712.7,211.4 C713.7,210.3 714.8,209.0 715.7,207.7 C716.6,206.4 717.2,204.9 717.9,203.5 C718.5,202.0 719.0,200.4 719.6,198.9 C720.2,197.3 720.5,195.7 721.4,194.4 C722.3,193.1 724.4,191.6 725.0,191.0" fill="none" stroke="#d8968a" stroke-width="1.8" opacity="0.8"/>
<path d="M690.7,259.5 C691.2,259.0 693.0,257.4 694.0,256.1 C695.0,254.9 695.8,253.5 696.6,252.1 C697.4,250.7 698.0,249.1 698.7,247.7 C699.5,246.2 700.2,244.8 701.1,243.4 C702.0,242.1 703.1,241.0 704.0,239.8 C705.0,238.6 705.6,237.5 706.6,236.4 C707.6,235.4 708.7,234.5 709.8,233.6 C710.9,232.7 712.4,232.0 713.2,230.9 C714.0,229.7 714.1,228.0 714.7,226.7 C715.4,225.5 716.3,224.4 717.2,223.4 C718.1,222.4 719.1,221.5 720.2,220.8 C721.4,220.0 722.6,219.4 723.9,218.8 C725.1,218.1 726.4,217.6 727.6,216.9 C728.8,216.1 730.4,215.1 731.2,214.0 C732.0,212.9 732.0,211.4 732.3,210.1 C732.5,208.7 732.6,207.3 732.8,205.9 C733.1,204.6 733.3,203.2 733.7,201.9 C734.1,200.6 734.7,199.4 735.4,198.3 C736.1,197.1 737.6,195.5 738.0,195.0" fill="none" stroke="#b8574c" stroke-width="1.8" opacity="0.8"/>
<path d="M641.1,247.6 C641.4,247.0 642.2,245.1 642.6,243.7 C643.0,242.4 643.2,240.9 643.6,239.6 C644.0,238.2 644.3,236.8 644.9,235.6 C645.5,234.3 646.2,233.2 647.1,232.1 C647.9,231.0 649.0,230.1 649.9,229.0 C650.8,227.8 651.7,226.6 652.5,225.4 C653.2,224.1 653.9,222.8 654.4,221.5 C654.9,220.1 655.1,218.7 655.4,217.2 C655.6,215.8 655.7,214.2 655.9,212.8 C656.2,211.4 656.5,210.1 656.8,208.8 C657.1,207.4 657.3,206.1 657.8,204.8 C658.2,203.5 658.9,202.3 659.5,201.0 C660.1,199.7 660.9,198.5 661.4,197.2 C661.8,195.9 662.3,194.6 662.5,193.3 C662.6,191.9 662.1,189.7 662.0,189.0" fill="none" stroke="#b8574c" stroke-width="1.8" opacity="0.8"/>
<path d="M710.5,254.2 C710.6,253.5 710.8,251.4 711.1,250.1 C711.3,248.7 711.6,247.4 712.0,246.1 C712.5,244.8 713.2,243.7 713.9,242.5 C714.6,241.4 715.7,240.4 716.4,239.2 C717.1,238.1 717.3,236.7 718.0,235.5 C718.8,234.3 719.9,233.3 720.7,232.1 C721.5,230.8 722.1,229.6 722.6,228.3 C723.1,226.9 723.4,225.5 723.7,224.1 C724.0,222.7 724.0,221.2 724.5,219.7 C724.9,218.2 725.6,216.6 726.4,215.2 C727.2,213.8 728.1,212.5 729.2,211.2 C730.2,210.0 731.7,209.1 732.6,207.7 C733.4,206.2 733.2,204.0 734.1,202.6 C734.9,201.2 736.4,200.3 737.6,199.3 C738.9,198.3 740.5,197.6 741.7,196.5 C742.9,195.5 744.5,193.6 745.0,193.0" fill="none" stroke="#d8968a" stroke-width="1.8" opacity="0.8"/>
<path d="M729.4,240.7 C729.6,239.9 730.2,237.6 730.8,236.2 C731.5,234.8 732.3,233.4 733.2,232.1 C734.1,230.8 735.2,229.6 736.2,228.3 C737.1,227.1 738.0,225.9 738.9,224.6 C739.8,223.4 740.8,222.2 741.5,220.9 C742.2,219.6 742.8,218.1 743.3,216.7 C743.9,215.3 744.1,213.6 744.9,212.3 C745.7,211.1 747.3,210.5 748.3,209.3 C749.3,208.1 749.9,206.5 750.8,205.2 C751.7,203.8 752.6,202.4 753.8,201.4 C754.9,200.4 757.3,199.4 758.0,199.0" fill="none" stroke="#b8574c" stroke-width="1.8" opacity="0.8"/>
<path d="M619.5,232.8 C620.2,232.6 622.2,231.9 623.7,231.6 C625.1,231.2 626.7,231.1 628.1,230.9 C629.6,230.6 631.1,230.4 632.5,230.0 C633.9,229.5 635.2,229.0 636.5,228.3 C637.7,227.6 638.9,226.6 640.1,225.7 C641.3,224.9 642.4,223.8 643.7,223.0 C644.9,222.2 646.2,221.5 647.5,220.9 C648.8,220.3 650.3,220.0 651.7,219.7 C653.1,219.4 654.7,219.3 656.1,219.0 C657.6,218.7 659.0,218.5 660.3,218.1 C661.7,217.8 663.0,217.5 664.3,217.0 C665.6,216.5 666.8,215.7 668.1,215.0 C669.3,214.4 670.5,213.5 671.8,212.9 C673.0,212.3 674.3,211.6 675.7,211.3 C677.0,211.1 679.3,211.5 680.0,211.5" fill="none" stroke="#b8574c" stroke-width="1.8" opacity="0.8"/>
<path d="M605.3,190.4 C605.8,190.9 607.3,192.3 608.4,193.2 C609.4,194.1 610.4,195.1 611.6,195.8 C612.7,196.5 613.9,197.1 615.2,197.5 C616.5,198.0 617.9,198.2 619.2,198.6 C620.6,198.9 622.0,199.1 623.3,199.5 C624.6,199.9 625.9,200.5 627.0,201.0 C628.2,201.5 628.9,202.2 630.2,202.7 C631.4,203.2 632.9,203.4 634.2,203.8 C635.6,204.3 636.9,205.0 638.3,205.4 C639.6,205.9 641.0,206.5 642.4,206.7 C643.7,207.0 645.1,207.1 646.5,207.1 C647.9,207.1 649.4,206.8 650.8,206.6 C652.3,206.5 653.9,206.0 655.3,206.1 C656.8,206.3 658.3,206.9 659.6,207.5 C661.0,208.1 662.3,208.9 663.6,209.7 C664.9,210.5 666.1,211.6 667.3,212.4 C668.6,213.3 669.9,214.2 671.2,214.8 C672.6,215.5 673.9,216.1 675.4,216.3 C677.0,216.6 678.9,215.9 680.4,216.1 C681.9,216.4 683.1,217.0 684.3,217.6 C685.5,218.2 686.7,219.1 687.8,219.9 C688.9,220.7 689.8,222.0 691.1,222.7 C692.3,223.4 694.3,223.8 695.0,224.0" fill="none" stroke="#d8968a" stroke-width="1.8" opacity="0.8"/>
<path d="M709.5,174.3 C709.8,175.0 710.7,177.4 711.4,178.8 C712.2,180.2 713.1,181.5 714.1,182.8 C715.1,184.0 716.4,185.3 717.5,186.4 C718.6,187.5 719.9,188.5 720.8,189.6 C721.8,190.6 722.6,191.7 723.4,192.8 C724.2,193.9 724.8,195.2 725.6,196.3 C726.4,197.4 727.2,198.6 728.2,199.5 C729.1,200.5 730.3,201.1 731.3,202.1 C732.4,203.0 733.2,204.2 734.3,205.1 C735.5,205.9 736.8,206.6 738.2,207.2 C739.6,207.8 741.1,208.2 742.5,208.7 C743.9,209.2 745.6,209.4 746.8,210.3 C748.0,211.1 748.7,212.7 749.6,213.9 C750.4,215.1 751.0,216.4 751.9,217.4 C752.8,218.5 753.9,219.4 755.0,220.3 C756.1,221.2 757.4,221.9 758.6,222.7 C759.8,223.5 761.1,224.2 762.2,225.1 C763.3,226.0 764.3,226.9 765.2,228.0 C766.1,229.1 766.7,230.4 767.5,231.6 C768.3,232.8 769.6,234.4 770.0,235.0" fill="none" stroke="#b8574c" stroke-width="1.8" opacity="0.8"/>
<path d="M628.8,184.4 C629.1,185.2 630.0,187.7 630.8,189.3 C631.6,190.9 632.6,192.5 633.4,194.0 C634.3,195.5 635.3,196.9 636.0,198.3 C636.8,199.7 637.3,201.1 637.9,202.5 C638.4,203.9 638.8,205.5 639.4,206.9 C640.0,208.3 640.6,209.7 641.4,211.0 C642.2,212.2 643.7,212.8 644.4,214.2 C645.0,215.6 644.9,217.7 645.4,219.4 C646.0,221.1 646.5,222.8 647.5,224.3 C648.4,225.8 650.1,227.0 651.0,228.3 C651.9,229.6 652.2,230.8 652.8,232.1 C653.4,233.4 653.8,234.8 654.4,236.1 C655.0,237.4 655.7,238.6 656.5,239.8 C657.3,240.9 658.3,241.9 659.3,242.9 C660.3,243.8 661.7,244.5 662.6,245.6 C663.6,246.6 664.6,248.4 665.0,249.0" fill="none" stroke="#b8574c" stroke-width="1.8" opacity="0.8"/>
<path d="M590.0,207.8 C590.7,207.6 592.8,207.0 594.2,206.7 C595.5,206.3 596.9,205.9 598.3,205.7 C599.7,205.5 601.1,205.5 602.5,205.6 C603.9,205.7 605.3,206.0 606.7,206.3 C608.1,206.6 609.5,207.1 610.8,207.4 C612.2,207.6 613.3,207.5 614.6,207.7 C615.9,207.9 617.2,208.4 618.6,208.5 C619.9,208.7 621.4,208.6 622.8,208.7 C624.1,208.8 625.5,208.9 626.9,209.1 C628.2,209.4 629.5,209.8 630.7,210.4 C631.9,210.9 633.1,212.0 634.3,212.5 C635.4,212.9 636.4,212.9 637.6,212.9 C638.9,212.9 640.5,212.5 641.9,212.4 C643.3,212.3 644.8,212.3 646.2,212.2 C647.7,212.0 649.1,211.8 650.4,211.3 C651.7,210.9 653.0,210.3 654.3,209.6 C655.5,208.9 656.7,207.5 658.1,207.2 C659.5,206.9 661.3,207.5 662.8,207.9 C664.3,208.3 665.8,208.8 667.2,209.4 C668.6,210.0 669.9,210.9 671.3,211.7 C672.6,212.6 673.8,213.5 675.3,214.3 C676.8,215.0 678.8,216.2 680.4,216.2 C681.9,216.3 683.2,215.2 684.6,214.5 C686.0,213.8 687.3,212.8 688.7,212.1 C690.1,211.4 691.4,210.5 692.9,210.0 C694.3,209.4 695.8,208.8 697.3,208.7 C698.8,208.6 700.4,209.2 701.9,209.2 C703.3,209.3 704.7,209.0 706.1,208.9 C707.5,208.9 708.9,208.8 710.2,208.9 C711.6,209.0 712.9,209.3 714.2,209.7 C715.5,210.2 716.8,210.8 718.0,211.4 C719.3,212.0 720.5,212.8 721.8,213.3 C723.1,213.8 724.4,214.4 725.7,214.5 C727.1,214.6 729.3,214.1 730.0,214.0" fill="none" stroke="#d8968a" stroke-width="1.8" opacity="0.8"/>
</g>
<defs><clipPath id="pc0"><rect x="868.5" y="3" width="195.5" height="127.5" rx="17"/></clipPath><clipPath id="pc141"><rect x="870.5" y="144" width="195.5" height="127.5" rx="17"/></clipPath></defs>
<rect x="868.5" y="3" width="195.5" height="127.5" rx="17" fill="#cdcdd6"/>
<g clip-path="url(#pc0)">
<path d="M869.0,47.7 C871.0,44.3 878.1,31.4 881.2,27.5 C884.3,23.6 885.6,23.5 887.7,24.3 C889.9,25.1 892.1,30.0 894.1,32.4 C896.1,34.8 897.6,38.1 899.8,38.8 C902.0,39.5 904.0,38.8 907.1,36.4 C910.2,34.0 915.7,27.4 918.4,24.3 C921.1,21.2 921.7,18.8 923.3,17.8 C924.9,16.9 925.8,17.9 928.1,18.6 C930.4,19.3 935.5,21.3 937.0,21.8" fill="none" stroke="#f4be2a" stroke-width="3.3" stroke-linecap="round" stroke-linejoin="round"/>
<path d="M929.7,3.2 C930.9,6.3 934.2,21.8 937.0,21.8 C939.8,21.9 945.1,6.6 946.7,3.5" fill="none" stroke="#f4be2a" stroke-width="3.3" stroke-linecap="round" stroke-linejoin="round"/>
<path d="M937.0,21.8 C936.9,24.9 936.5,33.5 936.2,40.5 C935.9,47.5 935.5,60.0 935.4,63.9" fill="none" stroke="#f4be2a" stroke-width="3.3" stroke-linecap="round" stroke-linejoin="round"/>
<path d="M935.4,63.9 C935.0,65.1 934.5,68.4 933.0,71.2 C931.5,74.0 929.2,77.7 926.5,80.9 C923.8,84.1 920.3,87.9 916.8,90.6 C913.3,93.3 910.1,93.9 905.5,97.1 C900.9,100.3 894.9,105.5 889.3,110.0 C883.7,114.5 874.9,121.7 872.0,124.0" fill="none" stroke="#f4be2a" stroke-width="3.3" stroke-linecap="round" stroke-linejoin="round"/>
<path d="M869.0,74.4 C870.0,75.8 872.1,82.5 874.7,82.5 C877.3,82.5 880.6,77.4 884.4,74.4 C888.2,71.4 892.8,68.5 897.4,64.7 C902.0,60.9 907.3,56.4 911.9,51.8 C916.5,47.2 921.9,40.0 924.9,37.2 C927.9,34.4 928.4,34.2 929.7,34.8 C931.1,35.3 932.2,37.4 933.0,40.5 C933.8,43.6 934.2,49.5 934.6,53.4 C935.0,57.3 935.3,62.1 935.4,63.9" fill="none" stroke="#f4be2a" stroke-width="3.3" stroke-linecap="round" stroke-linejoin="round"/>
<path d="M935.4,63.9 C936.1,64.6 936.8,67.0 939.4,68.0 C942.0,69.0 946.4,70.1 950.8,69.6 C955.2,69.1 960.7,68.0 965.9,65.2 C971.1,62.4 978.1,56.9 982.2,53.0 C986.3,49.1 989.0,43.7 990.4,41.8" fill="none" stroke="#f4be2a" stroke-width="3.3" stroke-linecap="round" stroke-linejoin="round"/>
<path d="M869.5,85.0 C871.2,85.7 876.0,88.9 879.6,89.0 C883.2,89.1 887.5,86.6 890.9,85.8 C894.3,85.0 897.5,83.3 899.8,84.1 C902.1,84.9 903.6,88.4 904.6,90.6 C905.6,92.8 905.0,94.4 905.5,97.1 C906.0,99.8 906.8,104.1 907.9,106.8 C909.0,109.5 910.1,112.8 911.9,113.3 C913.6,113.8 916.0,112.7 918.4,110.0 C920.8,107.3 924.1,99.2 926.5,97.1 C928.9,94.9 930.9,94.9 933.0,97.1 C935.1,99.2 937.5,105.7 939.4,110.0 C941.3,114.3 942.7,119.9 944.3,123.0 C945.9,126.1 946.7,127.8 949.1,128.5 C951.5,129.2 955.9,128.5 958.9,127.0 C961.9,125.5 965.0,121.2 967.0,119.7 C969.0,118.2 970.5,120.4 971.0,118.1 C971.5,115.8 970.9,110.3 970.0,105.9 C969.1,101.5 965.2,95.3 965.9,91.7 C966.6,88.1 970.4,84.7 974.1,84.5 C977.8,84.3 985.9,89.6 988.3,90.6" fill="none" stroke="#f4be2a" stroke-width="3.3" stroke-linecap="round" stroke-linejoin="round"/>
<path d="M990.4,41.8 C990.0,39.2 988.0,31.4 988.3,26.5 C988.6,21.6 993.4,15.3 992.4,12.2 C991.4,9.1 986.5,9.4 982.2,8.1 C978.0,6.8 969.5,4.8 966.9,4.1" fill="none" stroke="#f4be2a" stroke-width="3.3" stroke-linecap="round" stroke-linejoin="round"/>
<path d="M1006.7,3.0 C1006.7,4.2 1004.7,7.6 1006.7,10.2 C1008.7,12.8 1014.5,15.9 1018.9,18.3 C1023.3,20.7 1029.1,21.5 1033.2,24.4 C1037.3,27.3 1038.2,33.5 1043.3,35.6 C1048.3,37.7 1060.1,36.5 1063.5,36.7" fill="none" stroke="#f4be2a" stroke-width="3.3" stroke-linecap="round" stroke-linejoin="round"/>
<path d="M990.4,41.8 C993.1,41.1 1001.3,38.1 1006.7,37.7 C1012.1,37.4 1018.6,38.2 1023.0,39.7 C1027.4,41.2 1026.5,45.7 1033.2,46.9 C1040.0,48.1 1058.5,46.9 1063.5,46.9" fill="none" stroke="#f4be2a" stroke-width="3.3" stroke-linecap="round" stroke-linejoin="round"/>
<path d="M990.4,41.8 C992.4,43.0 999.0,46.0 1002.6,48.9 C1006.2,51.8 1010.6,55.9 1011.8,59.1 C1013.0,62.3 1010.1,66.7 1009.7,68.2" fill="none" stroke="#f4be2a" stroke-width="3.3" stroke-linecap="round" stroke-linejoin="round"/>
<path d="M1009.7,68.2 C1009.0,71.1 1006.9,77.9 1005.7,85.6 C1004.5,93.2 1003.5,108.7 1002.6,114.1 C1001.8,119.5 1002.3,118.8 1000.6,118.1 C998.9,117.4 995.5,110.0 992.4,110.0 C989.3,110.0 984.6,114.8 982.2,118.1 C979.8,121.4 978.8,128.0 978.1,130.0" fill="none" stroke="#f4be2a" stroke-width="3.3" stroke-linecap="round" stroke-linejoin="round"/>
<path d="M1009.7,68.2 C1011.9,69.7 1018.9,74.9 1023.0,77.4 C1027.1,80.0 1031.5,86.2 1034.2,83.5 C1036.9,80.8 1037.1,65.5 1039.3,61.1 C1041.5,56.7 1044.7,57.3 1047.4,57.0 C1050.1,56.7 1052.9,59.6 1055.6,59.1 C1058.3,58.6 1062.2,54.9 1063.5,54.0" fill="none" stroke="#f4be2a" stroke-width="3.3" stroke-linecap="round" stroke-linejoin="round"/>
</g>
<ellipse cx="897.7" cy="14.7" rx="7.4" ry="6.3" fill="#f6c21c"/>
<path d="M895.7,14.7h4M897.7,12.7v4" stroke="#3a2a10" stroke-width="1.5"/>
<ellipse cx="969.0" cy="23.4" rx="7.4" ry="6.3" fill="#f6c21c"/>
<path d="M967.0,23.4h4M969.0,21.4v4" stroke="#3a2a10" stroke-width="1.5"/>
<ellipse cx="1042.9" cy="15.3" rx="7.4" ry="6.3" fill="#f6c21c"/>
<path d="M1041.1,15.8h3.6" stroke="#3a2a10" stroke-width="1.3"/>
<ellipse cx="895.6" cy="51.9" rx="7.4" ry="6.3" fill="#f6c21c"/>
<path d="M893.8,52.4h3.6" stroke="#3a2a10" stroke-width="1.3"/>
<ellipse cx="953.7" cy="45.8" rx="7.4" ry="6.3" fill="#f6c21c"/>
<path d="M951.9,46.3h3.6" stroke="#3a2a10" stroke-width="1.3"/>
<ellipse cx="1022.0" cy="54.0" rx="7.4" ry="6.3" fill="#f6c21c"/>
<path d="M1020.0,54.0h4M1022.0,52.0v4" stroke="#3a2a10" stroke-width="1.5"/>
<ellipse cx="989.4" cy="65.2" rx="7.4" ry="6.3" fill="#f6c21c"/>
<path d="M987.6,65.7h3.6" stroke="#3a2a10" stroke-width="1.3"/>
<ellipse cx="955.7" cy="87.6" rx="7.4" ry="6.3" fill="#f6c21c"/>
<path d="M953.7,87.6h4M955.7,85.6v4" stroke="#3a2a10" stroke-width="1.5"/>
<ellipse cx="1050.5" cy="93.7" rx="7.4" ry="6.3" fill="#f6c21c"/>
<path d="M1048.7,94.2h3.6" stroke="#3a2a10" stroke-width="1.3"/>
<ellipse cx="1027.0" cy="110.0" rx="7.4" ry="6.3" fill="#f6c21c"/>
<path d="M1025.0,110.0h4M1027.0,108.0v4" stroke="#3a2a10" stroke-width="1.5"/>
<ellipse cx="903.8" cy="121.2" rx="7.4" ry="6.3" fill="#f6c21c"/>
<path d="M901.8,121.2h4M903.8,119.2v4" stroke="#3a2a10" stroke-width="1.5"/>
<ellipse cx="930.3" cy="121.2" rx="7.4" ry="6.3" fill="#f6c21c"/>
<path d="M928.5,121.7h3.6" stroke="#3a2a10" stroke-width="1.3"/>
<path d="M937.0,15.8 L938.3,20.5 L943.0,21.8 L938.3,23.1 L937.0,27.8 L935.7,23.1 L931.0,21.8 L935.7,20.5Z" fill="#7a3eaa"/>
<path d="M935.4,57.9 L936.7,62.6 L941.4,63.9 L936.7,65.2 L935.4,69.9 L934.1,65.2 L929.4,63.9 L934.1,62.6Z" fill="#7a3eaa"/>
<path d="M990.4,35.8 L991.7,40.5 L996.4,41.8 L991.7,43.1 L990.4,47.8 L989.1,43.1 L984.4,41.8 L989.1,40.5Z" fill="#7a3eaa"/>
<path d="M1009.7,62.2 L1011.0,66.9 L1015.7,68.2 L1011.0,69.5 L1009.7,74.2 L1008.4,69.5 L1003.7,68.2 L1008.4,66.9Z" fill="#7a3eaa"/>
<path d="M905.5,91.1 L906.8,95.8 L911.5,97.1 L906.8,98.4 L905.5,103.1 L904.2,98.4 L899.5,97.1 L904.2,95.8Z" fill="#7a3eaa"/>
<g transform="translate(913.5,34.5) rotate(-48)"><rect x="-6" y="-5" width="12" height="10" fill="#7a3eaa" opacity="0.28"/><line x1="-6.5" y1="-4.8" x2="6.5" y2="-4.8" stroke="#7a3eaa" stroke-width="2.4"/><line x1="-6.5" y1="-1.5999999999999996" x2="6.5" y2="-1.5999999999999996" stroke="#7a3eaa" stroke-width="2.4"/><line x1="-6.5" y1="1.6000000000000005" x2="6.5" y2="1.6000000000000005" stroke="#7a3eaa" stroke-width="2.4"/><line x1="-6.5" y1="4.800000000000002" x2="6.5" y2="4.800000000000002" stroke="#7a3eaa" stroke-width="2.4"/></g>
<g transform="translate(998.5,15.5) rotate(-55)"><rect x="-6" y="-5" width="12" height="10" fill="#7a3eaa" opacity="0.28"/><line x1="-6.5" y1="-4.8" x2="6.5" y2="-4.8" stroke="#7a3eaa" stroke-width="2.4"/><line x1="-6.5" y1="-1.5999999999999996" x2="6.5" y2="-1.5999999999999996" stroke="#7a3eaa" stroke-width="2.4"/><line x1="-6.5" y1="1.6000000000000005" x2="6.5" y2="1.6000000000000005" stroke="#7a3eaa" stroke-width="2.4"/><line x1="-6.5" y1="4.800000000000002" x2="6.5" y2="4.800000000000002" stroke="#7a3eaa" stroke-width="2.4"/></g>
<g transform="translate(924.5,93.0) rotate(-40)"><rect x="-6" y="-5" width="12" height="10" fill="#7a3eaa" opacity="0.28"/><line x1="-6.5" y1="-4.8" x2="6.5" y2="-4.8" stroke="#7a3eaa" stroke-width="2.4"/><line x1="-6.5" y1="-1.5999999999999996" x2="6.5" y2="-1.5999999999999996" stroke="#7a3eaa" stroke-width="2.4"/><line x1="-6.5" y1="1.6000000000000005" x2="6.5" y2="1.6000000000000005" stroke="#7a3eaa" stroke-width="2.4"/><line x1="-6.5" y1="4.800000000000002" x2="6.5" y2="4.800000000000002" stroke="#7a3eaa" stroke-width="2.4"/></g>
<g transform="translate(973.0,118.5) rotate(-45)"><rect x="-6" y="-5" width="12" height="10" fill="#7a3eaa" opacity="0.28"/><line x1="-6.5" y1="-4.8" x2="6.5" y2="-4.8" stroke="#7a3eaa" stroke-width="2.4"/><line x1="-6.5" y1="-1.5999999999999996" x2="6.5" y2="-1.5999999999999996" stroke="#7a3eaa" stroke-width="2.4"/><line x1="-6.5" y1="1.6000000000000005" x2="6.5" y2="1.6000000000000005" stroke="#7a3eaa" stroke-width="2.4"/><line x1="-6.5" y1="4.800000000000002" x2="6.5" y2="4.800000000000002" stroke="#7a3eaa" stroke-width="2.4"/></g>
<rect x="870.5" y="144" width="195.5" height="127.5" rx="17" fill="#b6e0cc"/>
<g clip-path="url(#pc141)">
<path d="M871.0,188.7 C873.0,185.3 880.1,172.4 883.2,168.5 C886.3,164.6 887.6,164.5 889.7,165.3 C891.9,166.1 894.1,171.0 896.1,173.4 C898.1,175.8 899.6,179.1 901.8,179.8 C904.0,180.5 906.0,179.8 909.1,177.4 C912.2,175.0 917.7,168.4 920.4,165.3 C923.1,162.2 923.7,159.8 925.3,158.8 C926.9,157.8 927.8,158.9 930.1,159.6 C932.4,160.3 937.5,162.3 939.0,162.8" fill="none" stroke="#c0151c" stroke-width="3.3" stroke-linecap="round" stroke-linejoin="round"/>
<path d="M931.7,144.2 C932.9,147.3 936.2,162.8 939.0,162.8 C941.8,162.8 947.1,147.6 948.7,144.5" fill="none" stroke="#c0151c" stroke-width="3.3" stroke-linecap="round" stroke-linejoin="round"/>
<path d="M939.0,162.8 C938.9,165.9 938.5,174.5 938.2,181.5 C937.9,188.5 937.5,201.0 937.4,204.9" fill="none" stroke="#c0151c" stroke-width="3.3" stroke-linecap="round" stroke-linejoin="round"/>
<path d="M937.4,204.9 C937.0,206.1 936.5,209.4 935.0,212.2 C933.5,215.0 931.2,218.7 928.5,221.9 C925.8,225.1 922.3,228.9 918.8,231.6 C915.3,234.3 912.1,234.9 907.5,238.1 C902.9,241.3 896.9,246.5 891.3,251.0 C885.7,255.5 876.9,262.7 874.0,265.0" fill="none" stroke="#c0151c" stroke-width="3.3" stroke-linecap="round" stroke-linejoin="round"/>
<path d="M871.0,215.4 C872.0,216.8 874.1,223.5 876.7,223.5 C879.3,223.5 882.6,218.4 886.4,215.4 C890.2,212.4 894.8,209.5 899.4,205.7 C904.0,201.9 909.3,197.4 913.9,192.8 C918.5,188.2 923.9,181.0 926.9,178.2 C929.9,175.4 930.4,175.2 931.7,175.8 C933.1,176.3 934.2,178.4 935.0,181.5 C935.8,184.6 936.2,190.5 936.6,194.4 C937.0,198.3 937.3,203.2 937.4,204.9" fill="none" stroke="#c0151c" stroke-width="3.3" stroke-linecap="round" stroke-linejoin="round"/>
<path d="M937.4,204.9 C938.1,205.6 938.8,208.1 941.4,209.0 C944.0,209.9 948.4,211.1 952.8,210.6 C957.2,210.1 962.7,209.0 967.9,206.2 C973.1,203.4 980.1,197.9 984.2,194.0 C988.3,190.1 991.0,184.7 992.4,182.8" fill="none" stroke="#c0151c" stroke-width="3.3" stroke-linecap="round" stroke-linejoin="round"/>
<path d="M871.5,226.0 C873.2,226.7 878.0,229.9 881.6,230.0 C885.2,230.1 889.5,227.6 892.9,226.8 C896.3,226.0 899.5,224.3 901.8,225.1 C904.1,225.9 905.6,229.4 906.6,231.6 C907.6,233.8 907.0,235.4 907.5,238.1 C908.0,240.8 908.8,245.1 909.9,247.8 C911.0,250.5 912.1,253.8 913.9,254.3 C915.6,254.8 918.0,253.7 920.4,251.0 C922.8,248.3 926.1,240.2 928.5,238.1 C930.9,235.9 932.9,235.9 935.0,238.1 C937.1,240.2 939.5,246.7 941.4,251.0 C943.3,255.3 944.7,260.9 946.3,264.0 C947.9,267.1 948.7,268.8 951.1,269.5 C953.5,270.2 957.9,269.5 960.9,268.0 C963.9,266.5 967.0,262.2 969.0,260.7 C971.0,259.2 972.5,261.4 973.0,259.1 C973.5,256.8 972.9,251.3 972.0,246.9 C971.1,242.5 967.2,236.3 967.9,232.7 C968.6,229.1 972.4,225.7 976.1,225.5 C979.8,225.3 987.9,230.6 990.3,231.6" fill="none" stroke="#c0151c" stroke-width="3.3" stroke-linecap="round" stroke-linejoin="round"/>
<path d="M992.4,182.8 C992.0,180.2 990.0,172.4 990.3,167.5 C990.6,162.6 995.4,156.3 994.4,153.2 C993.4,150.1 988.5,150.4 984.2,149.1 C980.0,147.8 971.5,145.8 968.9,145.1" fill="none" stroke="#c0151c" stroke-width="3.3" stroke-linecap="round" stroke-linejoin="round"/>
<path d="M1008.7,144.0 C1008.7,145.2 1006.7,148.7 1008.7,151.2 C1010.7,153.8 1016.5,156.9 1020.9,159.3 C1025.3,161.7 1031.1,162.5 1035.2,165.4 C1039.3,168.3 1040.2,174.6 1045.3,176.6 C1050.3,178.7 1062.1,177.5 1065.5,177.7" fill="none" stroke="#c0151c" stroke-width="3.3" stroke-linecap="round" stroke-linejoin="round"/>
<path d="M992.4,182.8 C995.1,182.1 1003.3,179.1 1008.7,178.7 C1014.1,178.3 1020.6,179.2 1025.0,180.7 C1029.4,182.2 1028.5,186.7 1035.2,187.9 C1042.0,189.1 1060.5,187.9 1065.5,187.9" fill="none" stroke="#c0151c" stroke-width="3.3" stroke-linecap="round" stroke-linejoin="round"/>
<path d="M992.4,182.8 C994.4,184.0 1001.0,187.0 1004.6,189.9 C1008.2,192.8 1012.6,196.9 1013.8,200.1 C1015.0,203.3 1012.1,207.7 1011.7,209.2" fill="none" stroke="#c0151c" stroke-width="3.3" stroke-linecap="round" stroke-linejoin="round"/>
<path d="M1011.7,209.2 C1011.0,212.1 1008.9,218.9 1007.7,226.6 C1006.5,234.2 1005.5,249.7 1004.6,255.1 C1003.8,260.5 1004.3,259.8 1002.6,259.1 C1000.9,258.4 997.5,251.0 994.4,251.0 C991.3,251.0 986.6,255.8 984.2,259.1 C981.8,262.4 980.8,269.0 980.1,271.0" fill="none" stroke="#c0151c" stroke-width="3.3" stroke-linecap="round" stroke-linejoin="round"/>
<path d="M1011.7,209.2 C1013.9,210.7 1020.9,215.9 1025.0,218.4 C1029.1,220.9 1033.5,227.2 1036.2,224.5 C1038.9,221.8 1039.1,206.5 1041.3,202.1 C1043.5,197.7 1046.7,198.3 1049.4,198.0 C1052.1,197.7 1054.9,200.6 1057.6,200.1 C1060.3,199.6 1064.2,195.8 1065.5,195.0" fill="none" stroke="#c0151c" stroke-width="3.3" stroke-linecap="round" stroke-linejoin="round"/>
</g>
<ellipse cx="899.7" cy="155.7" rx="7.4" ry="6.3" fill="#f6c21c"/>
<path d="M897.7,155.7h4M899.7,153.7v4" stroke="#3a2a10" stroke-width="1.5"/>
<ellipse cx="971.0" cy="164.4" rx="7.4" ry="6.3" fill="#f6c21c"/>
<path d="M969.0,164.4h4M971.0,162.4v4" stroke="#3a2a10" stroke-width="1.5"/>
<ellipse cx="1044.9" cy="156.3" rx="7.4" ry="6.3" fill="#f6c21c"/>
<path d="M1043.1,156.8h3.6" stroke="#3a2a10" stroke-width="1.3"/>
<ellipse cx="897.6" cy="192.9" rx="7.4" ry="6.3" fill="#f6c21c"/>
<path d="M895.8,193.4h3.6" stroke="#3a2a10" stroke-width="1.3"/>
<ellipse cx="955.7" cy="186.8" rx="7.4" ry="6.3" fill="#f6c21c"/>
<path d="M953.9,187.3h3.6" stroke="#3a2a10" stroke-width="1.3"/>
<ellipse cx="1024.0" cy="195.0" rx="7.4" ry="6.3" fill="#f6c21c"/>
<path d="M1022.0,195.0h4M1024.0,193.0v4" stroke="#3a2a10" stroke-width="1.5"/>
<ellipse cx="991.4" cy="206.2" rx="7.4" ry="6.3" fill="#f6c21c"/>
<path d="M989.6,206.7h3.6" stroke="#3a2a10" stroke-width="1.3"/>
<ellipse cx="957.7" cy="228.6" rx="7.4" ry="6.3" fill="#f6c21c"/>
<path d="M955.7,228.6h4M957.7,226.6v4" stroke="#3a2a10" stroke-width="1.5"/>
<ellipse cx="1052.5" cy="234.7" rx="7.4" ry="6.3" fill="#f6c21c"/>
<path d="M1050.7,235.2h3.6" stroke="#3a2a10" stroke-width="1.3"/>
<ellipse cx="1029.0" cy="251.0" rx="7.4" ry="6.3" fill="#f6c21c"/>
<path d="M1027.0,251.0h4M1029.0,249.0v4" stroke="#3a2a10" stroke-width="1.5"/>
<ellipse cx="905.8" cy="262.2" rx="7.4" ry="6.3" fill="#f6c21c"/>
<path d="M903.8,262.2h4M905.8,260.2v4" stroke="#3a2a10" stroke-width="1.5"/>
<ellipse cx="932.3" cy="262.2" rx="7.4" ry="6.3" fill="#f6c21c"/>
<path d="M930.5,262.7h3.6" stroke="#3a2a10" stroke-width="1.3"/>
<path d="M939.0,156.8 L940.3,161.5 L945.0,162.8 L940.3,164.1 L939.0,168.8 L937.7,164.1 L933.0,162.8 L937.7,161.5Z" fill="#4b8f3a"/>
<path d="M937.4,198.9 L938.7,203.6 L943.4,204.9 L938.7,206.2 L937.4,210.9 L936.1,206.2 L931.4,204.9 L936.1,203.6Z" fill="#4b8f3a"/>
<path d="M992.4,176.8 L993.7,181.5 L998.4,182.8 L993.7,184.1 L992.4,188.8 L991.1,184.1 L986.4,182.8 L991.1,181.5Z" fill="#4b8f3a"/>
<path d="M1011.7,203.2 L1013.0,207.9 L1017.7,209.2 L1013.0,210.5 L1011.7,215.2 L1010.4,210.5 L1005.7,209.2 L1010.4,207.9Z" fill="#4b8f3a"/>
<path d="M907.5,232.1 L908.8,236.8 L913.5,238.1 L908.8,239.4 L907.5,244.1 L906.2,239.4 L901.5,238.1 L906.2,236.8Z" fill="#4b8f3a"/>
<g transform="translate(915.5,175.5) rotate(-48)"><rect x="-6" y="-5" width="12" height="10" fill="#4b8f3a" opacity="0.28"/><line x1="-6.5" y1="-4.8" x2="6.5" y2="-4.8" stroke="#4b8f3a" stroke-width="2.4"/><line x1="-6.5" y1="-1.5999999999999996" x2="6.5" y2="-1.5999999999999996" stroke="#4b8f3a" stroke-width="2.4"/><line x1="-6.5" y1="1.6000000000000005" x2="6.5" y2="1.6000000000000005" stroke="#4b8f3a" stroke-width="2.4"/><line x1="-6.5" y1="4.800000000000002" x2="6.5" y2="4.800000000000002" stroke="#4b8f3a" stroke-width="2.4"/></g>
<g transform="translate(1000.5,156.5) rotate(-55)"><rect x="-6" y="-5" width="12" height="10" fill="#4b8f3a" opacity="0.28"/><line x1="-6.5" y1="-4.8" x2="6.5" y2="-4.8" stroke="#4b8f3a" stroke-width="2.4"/><line x1="-6.5" y1="-1.5999999999999996" x2="6.5" y2="-1.5999999999999996" stroke="#4b8f3a" stroke-width="2.4"/><line x1="-6.5" y1="1.6000000000000005" x2="6.5" y2="1.6000000000000005" stroke="#4b8f3a" stroke-width="2.4"/><line x1="-6.5" y1="4.800000000000002" x2="6.5" y2="4.800000000000002" stroke="#4b8f3a" stroke-width="2.4"/></g>
<g transform="translate(926.5,234.0) rotate(-40)"><rect x="-6" y="-5" width="12" height="10" fill="#4b8f3a" opacity="0.28"/><line x1="-6.5" y1="-4.8" x2="6.5" y2="-4.8" stroke="#4b8f3a" stroke-width="2.4"/><line x1="-6.5" y1="-1.5999999999999996" x2="6.5" y2="-1.5999999999999996" stroke="#4b8f3a" stroke-width="2.4"/><line x1="-6.5" y1="1.6000000000000005" x2="6.5" y2="1.6000000000000005" stroke="#4b8f3a" stroke-width="2.4"/><line x1="-6.5" y1="4.800000000000002" x2="6.5" y2="4.800000000000002" stroke="#4b8f3a" stroke-width="2.4"/></g>
<g transform="translate(975.0,259.5) rotate(-45)"><rect x="-6" y="-5" width="12" height="10" fill="#4b8f3a" opacity="0.28"/><line x1="-6.5" y1="-4.8" x2="6.5" y2="-4.8" stroke="#4b8f3a" stroke-width="2.4"/><line x1="-6.5" y1="-1.5999999999999996" x2="6.5" y2="-1.5999999999999996" stroke="#4b8f3a" stroke-width="2.4"/><line x1="-6.5" y1="1.6000000000000005" x2="6.5" y2="1.6000000000000005" stroke="#4b8f3a" stroke-width="2.4"/><line x1="-6.5" y1="4.800000000000002" x2="6.5" y2="4.800000000000002" stroke="#4b8f3a" stroke-width="2.4"/></g>
<line x1="775.5" y1="71.7" x2="868.5" y2="17.4" stroke="#c0252d" stroke-width="3.2" stroke-dasharray="8.5 4.5"/>
<line x1="775.5" y1="90.0" x2="870.0" y2="123.3" stroke="#c0252d" stroke-width="3.2" stroke-dasharray="8.5 4.5"/>
<line x1="775.5" y1="212.7" x2="869.5" y2="158.0" stroke="#c0252d" stroke-width="3.2" stroke-dasharray="8.5 4.5"/>
<line x1="775.5" y1="231.0" x2="871.0" y2="264.0" stroke="#c0252d" stroke-width="3.2" stroke-dasharray="8.5 4.5"/>
<path d="M775.5,71.7 C770,73 766,74 762,73 C758,73 756.5,76 756,80 C755.5,85 757,88 762,88.5 L775.5,90 M768.3,80 L769.4,87.2" fill="none" stroke="#c0252d" stroke-width="3" stroke-dasharray="7 3"/>
<path d="M775.5,212.7 C770,214 766,215 762,214 C758,214 756.5,217 756,221 C755.5,226 757,229 762,229.5 L775.5,231 M768.3,221 L769.4,228.2" fill="none" stroke="#c0252d" stroke-width="3" stroke-dasharray="7 3"/>
<rect x="15.5" y="324.5" width="1051" height="193.5" rx="29" fill="none" stroke="#8dcc55" stroke-width="3.4" stroke-dasharray="10 5.2"/>
<path d="M33,344 C42,336 50,333 58,333 C72,333 84,345 97,344 C108,343 116,336 124,332" fill="none" stroke="#f2b928" stroke-width="3"/>
<text x="138.0" y="351.5" font-family='"Liberation Sans", sans-serif' font-size="15.5" font-weight="bold" fill="#222" text-anchor="start" >PACG</text>
<path d="M33,432 C42,427 50,425.5 58,425.5 C72,425.5 84,432 97,432 C108,432 116,428 124,425.5" fill="none" stroke="#bf1d22" stroke-width="3"/>
<text x="139.0" y="434.5" font-family='"Liberation Sans", sans-serif' font-size="15.5" font-weight="bold" fill="#222" text-anchor="start" >PAA</text>
<polyline points="73.8,371.4 89.1,362.2 104.8,370.9 120.0,361.5" fill="none" stroke="#111" stroke-width="1.7" stroke-linejoin="miter" />
<line x1="79.9" y1="355.5" x2="79.9" y2="375.5" stroke="#111" stroke-width="1.7" />
<line x1="113.5" y1="355.5" x2="113.5" y2="375.5" stroke="#111" stroke-width="1.7" />
<text x="119.0" y="374.5" font-family='"Liberation Sans", sans-serif' font-size="10" font-weight="bold" fill="#222" text-anchor="middle" >n</text>
<polyline points="104.8,370.9 104.8,387.7 95.2,392.8" fill="none" stroke="#111" stroke-width="1.7" stroke-linejoin="miter" />
<line x1="104.8" y1="387.7" x2="114.0" y2="393.3" stroke="#111" stroke-width="1.7" />
<line x1="103.4" y1="390.3" x2="112.6" y2="395.9" stroke="#111" stroke-width="1.7" />
<text x="118.6" y="400.6" font-family='"Liberation Sans", sans-serif' font-size="12.5" font-weight="bold" fill="#222" text-anchor="middle" >O</text>
<text x="88.6" y="399.2" font-family='"Liberation Sans", sans-serif' font-size="12.5" font-weight="bold" fill="#222" text-anchor="middle" >N</text>
<text x="88.6" y="412.0" font-family='"Liberation Sans", sans-serif' font-size="12.5" font-weight="bold" fill="#222" text-anchor="middle" >H</text>
<polyline points="81.9,392.3 73.8,388.2 59.5,395.3" fill="none" stroke="#111" stroke-width="1.7" stroke-linejoin="miter" />
<line x1="59.5" y1="395.3" x2="48.5" y2="389.3" stroke="#111" stroke-width="1.7" />
<line x1="58.3" y1="398.0" x2="47.3" y2="392.0" stroke="#111" stroke-width="1.7" />
<text x="43.2" y="392.0" font-family='"Liberation Sans", sans-serif' font-size="12.5" font-weight="bold" fill="#222" text-anchor="middle" >O</text>
<line x1="59.5" y1="395.3" x2="59.5" y2="407.0" stroke="#111" stroke-width="1.7" />
<text x="64.0" y="417.5" font-family='"Liberation Sans", sans-serif' font-size="12.5" font-weight="bold" fill="#222" text-anchor="middle" >OH</text>
<polyline points="52.1,466.7 70.0,455.8 86.7,465.8 104.2,455.4" fill="none" stroke="#111" stroke-width="1.7" stroke-linejoin="miter" />
<line x1="62.5" y1="450.0" x2="62.5" y2="471.3" stroke="#111" stroke-width="1.7" />
<line x1="95.8" y1="450.0" x2="95.8" y2="471.3" stroke="#111" stroke-width="1.7" />
<text x="103.3" y="470.3" font-family='"Liberation Sans", sans-serif' font-size="10" font-weight="bold" fill="#222" text-anchor="middle" >n</text>
<polyline points="86.7,465.8 86.7,485.0 97.5,490.8" fill="none" stroke="#111" stroke-width="1.7" stroke-linejoin="miter" />
<line x1="86.7" y1="485.0" x2="74.5" y2="491.5" stroke="#111" stroke-width="1.7" />
<line x1="85.3" y1="482.4" x2="73.1" y2="488.9" stroke="#111" stroke-width="1.7" />
<text x="69.2" y="499.5" font-family='"Liberation Sans", sans-serif' font-size="12.5" font-weight="bold" fill="#222" text-anchor="middle" >O</text>
<text x="108.3" y="499.5" font-family='"Liberation Sans", sans-serif' font-size="12.5" font-weight="bold" fill="#222" text-anchor="middle" >OH</text>
<ellipse cx="231.5" cy="346.5" rx="26.5" ry="12.6" fill="#b6e0cc"/>
<ellipse cx="215.2" cy="346.5" rx="7.3" ry="6.6" fill="#f6c21c"/>
<path d="M213.2,346.5h4M215.2,344.5v4" stroke="#3a2a10" stroke-width="1.4"/>
<ellipse cx="246.6" cy="347.5" rx="7.3" ry="6.6" fill="#f6c21c"/>
<path d="M244.79999999999998,348.0h3.6" stroke="#3a2a10" stroke-width="1.2"/>
<ellipse cx="229" cy="386.8" rx="7.3" ry="6.6" fill="#f6c21c"/>
<path d="M227,386.8h4M229,384.8v4" stroke="#3a2a10" stroke-width="1.4"/>
<ellipse cx="229" cy="455.5" rx="7.3" ry="6.6" fill="#f6c21c"/>
<path d="M227.2,456.0h3.6" stroke="#3a2a10" stroke-width="1.2"/>
<text x="284.5" y="352.8" font-family='"Liberation Sans", sans-serif' font-size="15.5" font-weight="bold" fill="#222" text-anchor="start" >EMIES</text>
<polyline points="249.2,398.1 268.0,389.3 279.0,396.0" fill="none" stroke="#111" stroke-width="1.7" stroke-linejoin="miter" />
<polyline points="288.0,398.0 303.3,394.3 311.0,404.0" fill="none" stroke="#111" stroke-width="1.7" stroke-linejoin="miter" />
<polyline points="311.0,416.0 304.6,425.8 288.5,421.0 284.5,407.0" fill="none" stroke="#111" stroke-width="1.7" stroke-linejoin="miter" />
<line x1="287.5" y1="418.0" x2="285.5" y2="409.0" stroke="#111" stroke-width="1.7" />
<line x1="300.0" y1="422.5" x2="307.0" y2="414.0" stroke="#111" stroke-width="1.7" />
<text x="283.2" y="406.5" font-family='"Liberation Sans", sans-serif' font-size="12.5" font-weight="bold" fill="#222" text-anchor="middle" >N</text>
<text x="314.0" y="415.5" font-family='"Liberation Sans", sans-serif' font-size="12.5" font-weight="bold" fill="#222" text-anchor="middle" >N</text>
<text x="320.5" y="406.5" font-family='"Liberation Sans", sans-serif' font-size="9" font-weight="bold" fill="#222" text-anchor="middle" >+</text>
<line x1="320.0" y1="412.0" x2="334.8" y2="412.0" stroke="#111" stroke-width="1.7" />
<text x="264.3" y="471.0" font-family='"Liberation Sans", sans-serif' font-size="9" font-weight="bold" fill="#222" text-anchor="middle" >−</text>
<text x="274.3" y="481.5" font-family='"Liberation Sans", sans-serif' font-size="12.5" font-weight="bold" fill="#222" text-anchor="middle" >O</text>
<text x="292.0" y="481.5" font-family='"Liberation Sans", sans-serif' font-size="12.5" font-weight="bold" fill="#222" text-anchor="middle" >S</text>
<text x="308.3" y="481.5" font-family='"Liberation Sans", sans-serif' font-size="12.5" font-weight="bold" fill="#222" text-anchor="middle" >O</text>
<text x="292.0" y="465.0" font-family='"Liberation Sans", sans-serif' font-size="12.5" font-weight="bold" fill="#222" text-anchor="middle" >O</text>
<text x="292.0" y="500.5" font-family='"Liberation Sans", sans-serif' font-size="12.5" font-weight="bold" fill="#222" text-anchor="middle" >O</text>
<line x1="279.0" y1="477.5" x2="287.5" y2="477.5" stroke="#111" stroke-width="1.7" />
<line x1="296.5" y1="477.5" x2="304.0" y2="477.5" stroke="#111" stroke-width="1.7" />
<line x1="290.5" y1="467.0" x2="290.5" y2="472.5" stroke="#111" stroke-width="1.7" />
<line x1="293.5" y1="467.0" x2="293.5" y2="472.5" stroke="#111" stroke-width="1.7" />
<line x1="290.5" y1="483.0" x2="290.5" y2="489.0" stroke="#111" stroke-width="1.7" />
<line x1="293.5" y1="483.0" x2="293.5" y2="489.0" stroke="#111" stroke-width="1.7" />
<polyline points="313.0,473.0 321.0,462.3 336.0,462.3" fill="none" stroke="#111" stroke-width="1.7" stroke-linejoin="miter" />
<path d="M377,373 C386,369 392,365.5 399,365.5 C407,365.5 412,371 418,370.5 C426,370 431,366 440,365.8 C452,365.5 465,368 477,372" fill="none" stroke="#f2b928" stroke-width="2.8" transform="translate(0,0)"/>
<path d="M382,485 C390,488 396,491 404,491 C414,491 421,486 430,486 C437,486 441,491 447,491 C452,491 456,488.5 462,487.5 C470,486 476,485 482,483.5" fill="none" stroke="#f2b928" stroke-width="2.8" transform="translate(0,0)"/>
<g transform="translate(0,0)">
<polyline points="429.8,370.6 440.6,389.8 433.0,404.0" fill="none" stroke="#111" stroke-width="1.7" stroke-linejoin="miter" />
<line x1="440.6" y1="388.6" x2="455.0" y2="388.6" stroke="#111" stroke-width="1.7" />
<line x1="440.6" y1="391.6" x2="455.0" y2="391.6" stroke="#111" stroke-width="1.7" />
<text x="462.3" y="394.0" font-family='"Liberation Sans", sans-serif' font-size="12.5" font-weight="bold" fill="#222" text-anchor="middle" >O</text>
<text x="424.0" y="414.3" font-family='"Liberation Sans", sans-serif' font-size="12.5" font-weight="bold" fill="#222" text-anchor="middle" >HN</text>
<polyline points="432.0,415.5 440.6,430.7 433.4,443.0" fill="none" stroke="#111" stroke-width="1.7" stroke-linejoin="miter" />
<text x="424.0" y="454.0" font-family='"Liberation Sans", sans-serif' font-size="12.5" font-weight="bold" fill="#222" text-anchor="middle" >HN</text>
<polyline points="433.4,455.5 440.6,468.0 429.8,486.0" fill="none" stroke="#111" stroke-width="1.7" stroke-linejoin="miter" />
<line x1="440.6" y1="466.5" x2="455.0" y2="466.5" stroke="#111" stroke-width="1.7" />
<line x1="440.6" y1="469.5" x2="455.0" y2="469.5" stroke="#111" stroke-width="1.7" />
<text x="462.3" y="472.5" font-family='"Liberation Sans", sans-serif' font-size="12.5" font-weight="bold" fill="#222" text-anchor="middle" >O</text>
</g>
<path d="M427.4,335.9 L429.2,341.6 L435.4,343.4 L429.2,345.2 L427.4,350.9 L425.6,345.2 L419.4,343.4 L425.6,341.6Z" fill="#8a48c0" filter="url(#sb)"/>
<path d="M399,375 C402,370 404,366 409,366 C416,366 422,370 429,370 C438,370 447,364 456,363.5 C464,363 470,366 475,370" fill="none" stroke="#bf1d22" stroke-width="2.8" transform="translate(121,3)"/>
<path d="M402,485 C408,490 416,491 425,490 C434,489 440,486 449,485.5 C458,485 466,484 470,477" fill="none" stroke="#bf1d22" stroke-width="2.8" transform="translate(121,3)"/>
<g transform="translate(121,3)">
<polyline points="429.8,370.6 440.6,389.8 433.0,404.0" fill="none" stroke="#111" stroke-width="1.7" stroke-linejoin="miter" />
<line x1="440.6" y1="388.6" x2="455.0" y2="388.6" stroke="#111" stroke-width="1.7" />
<line x1="440.6" y1="391.6" x2="455.0" y2="391.6" stroke="#111" stroke-width="1.7" />
<text x="462.3" y="394.0" font-family='"Liberation Sans", sans-serif' font-size="12.5" font-weight="bold" fill="#222" text-anchor="middle" >O</text>
<text x="424.0" y="414.3" font-family='"Liberation Sans", sans-serif' font-size="12.5" font-weight="bold" fill="#222" text-anchor="middle" >HN</text>
<polyline points="432.0,415.5 440.6,430.7 433.4,443.0" fill="none" stroke="#111" stroke-width="1.7" stroke-linejoin="miter" />
<text x="424.0" y="454.0" font-family='"Liberation Sans", sans-serif' font-size="12.5" font-weight="bold" fill="#222" text-anchor="middle" >HN</text>
<polyline points="433.4,455.5 440.6,468.0 429.8,486.0" fill="none" stroke="#111" stroke-width="1.7" stroke-linejoin="miter" />
<line x1="440.6" y1="466.5" x2="455.0" y2="466.5" stroke="#111" stroke-width="1.7" />
<line x1="440.6" y1="469.5" x2="455.0" y2="469.5" stroke="#111" stroke-width="1.7" />
<text x="462.3" y="472.5" font-family='"Liberation Sans", sans-serif' font-size="12.5" font-weight="bold" fill="#222" text-anchor="middle" >O</text>
</g>
<path d="M548.4,338.9 L550.2,344.6 L556.4,346.4 L550.2,348.2 L548.4,353.9 L546.6,348.2 L540.4,346.4 L546.6,344.6Z" fill="#4b8f3a" filter="url(#sb)"/>
<path d="M65.5,782.5 C65.8,780.6 66.4,774.4 67.6,771.3 C68.8,768.2 70.5,766.0 72.6,763.7 C74.7,761.4 77.2,759.5 80.1,757.4 C83.0,755.3 86.4,753.4 90.2,751.1 C94.0,748.8 98.6,746.5 102.8,743.6 C107.0,740.7 111.2,737.3 115.4,733.5 C119.6,729.7 123.8,726.0 128.0,721.0 C132.2,716.0 136.3,709.6 140.5,703.3 C144.7,697.0 148.9,690.3 153.1,683.2 C157.3,676.1 161.9,667.6 165.7,660.5 C169.5,653.4 172.5,647.5 175.8,640.4 C179.2,633.3 182.9,624.5 185.8,617.8 C188.7,611.1 191.4,604.8 193.4,600.1 C195.4,595.4 197.2,591.4 197.9,589.6 L198.2,764" fill="none" stroke="#8ad3c7" stroke-width="2.2" stroke-linejoin="round"/>
<path d="M65.5,782.5 C66.2,782.0 68.4,780.1 70.0,779.5 C71.6,778.9 71.8,778.7 75.1,778.6 C78.4,778.5 80.8,778.7 90.0,778.9 C99.2,779.1 115.0,779.4 130.0,779.6 C145.0,779.8 163.3,780.1 180.0,780.3 C196.7,780.5 218.3,780.6 230.0,780.8 C241.7,781.0 244.2,781.0 250.0,781.3 C255.8,781.5 260.8,782.0 265.0,782.3 C269.2,782.6 273.3,782.9 275.0,783.0" fill="none" stroke="#f4ae86" stroke-width="2.6"/>
<rect x="65.5" y="571.3" width="261.8" height="212.20000000000005" fill="none" stroke="#3a3a3a" stroke-width="2.2"/>
<line x1="61.0" y1="783.5" x2="65.5" y2="783.5" stroke="#3a3a3a" stroke-width="1.8" />
<text x="58.5" y="789.0" font-family='"Liberation Sans", sans-serif' font-size="15.5" font-weight="bold" fill="#333" text-anchor="end" >0</text>
<line x1="61.0" y1="722.6" x2="65.5" y2="722.6" stroke="#3a3a3a" stroke-width="1.8" />
<text x="58.5" y="728.1" font-family='"Liberation Sans", sans-serif' font-size="15.5" font-weight="bold" fill="#333" text-anchor="end" >40</text>
<line x1="61.0" y1="661.7" x2="65.5" y2="661.7" stroke="#3a3a3a" stroke-width="1.8" />
<text x="58.5" y="667.2" font-family='"Liberation Sans", sans-serif' font-size="15.5" font-weight="bold" fill="#333" text-anchor="end" >80</text>
<line x1="61.0" y1="600.8" x2="65.5" y2="600.8" stroke="#3a3a3a" stroke-width="1.8" />
<text x="58.5" y="606.3" font-family='"Liberation Sans", sans-serif' font-size="15.5" font-weight="bold" fill="#333" text-anchor="end" >120</text>
<line x1="62.5" y1="753.0" x2="65.5" y2="753.0" stroke="#3a3a3a" stroke-width="1.5" />
<line x1="62.5" y1="692.1" x2="65.5" y2="692.1" stroke="#3a3a3a" stroke-width="1.5" />
<line x1="62.5" y1="631.2" x2="65.5" y2="631.2" stroke="#3a3a3a" stroke-width="1.5" />
<line x1="62.5" y1="570.4" x2="65.5" y2="570.4" stroke="#3a3a3a" stroke-width="1.5" />
<line x1="65.6" y1="783.5" x2="65.6" y2="788.0" stroke="#3a3a3a" stroke-width="1.8" />
<text x="65.6" y="803.0" font-family='"Liberation Sans", sans-serif' font-size="15.5" font-weight="bold" fill="#333" text-anchor="middle" >0</text>
<line x1="138.3" y1="783.5" x2="138.3" y2="788.0" stroke="#3a3a3a" stroke-width="1.8" />
<text x="138.3" y="803.0" font-family='"Liberation Sans", sans-serif' font-size="15.5" font-weight="bold" fill="#333" text-anchor="middle" >400</text>
<line x1="211.0" y1="783.5" x2="211.0" y2="788.0" stroke="#3a3a3a" stroke-width="1.8" />
<text x="211.0" y="803.0" font-family='"Liberation Sans", sans-serif' font-size="15.5" font-weight="bold" fill="#333" text-anchor="middle" >800</text>
<line x1="283.7" y1="783.5" x2="283.7" y2="788.0" stroke="#3a3a3a" stroke-width="1.8" />
<text x="283.7" y="803.0" font-family='"Liberation Sans", sans-serif' font-size="15.5" font-weight="bold" fill="#333" text-anchor="middle" >1200</text>
<line x1="101.9" y1="783.5" x2="101.9" y2="786.5" stroke="#3a3a3a" stroke-width="1.5" />
<line x1="174.6" y1="783.5" x2="174.6" y2="786.5" stroke="#3a3a3a" stroke-width="1.5" />
<line x1="247.3" y1="783.5" x2="247.3" y2="786.5" stroke="#3a3a3a" stroke-width="1.5" />
<line x1="320.0" y1="783.5" x2="320.0" y2="786.5" stroke="#3a3a3a" stroke-width="1.5" />
<text x="196.0" y="824.5" font-family='"Liberation Sans", sans-serif' font-size="20.8" font-weight="bold" fill="#333" text-anchor="middle" >Strain (%)</text>
<text x="0.0" y="0.0" font-family='"Liberation Sans", sans-serif' font-size="20.8" font-weight="bold" fill="#333" text-anchor="middle" transform="translate(35,677) rotate(-90)">Stress (kPa)</text>
<line x1="205.8" y1="583.0" x2="230.8" y2="583.0" stroke="#8ad3c7" stroke-width="2.4" />
<line x1="205.8" y1="600.0" x2="230.8" y2="600.0" stroke="#f4ae86" stroke-width="2.4" />
<text x="234" y="587" font-family='"Liberation Sans", sans-serif' font-size="11.6" font-weight="bold" fill="#2a2a2a">PACG<tspan font-size="7.6" dy="3">4</tspan><tspan dy="-3">-MBAA</tspan><tspan font-size="7.6" dy="3">0.05</tspan></text>
<text x="234" y="604" font-family='"Liberation Sans", sans-serif' font-size="11.6" font-weight="bold" fill="#2a2a2a">PAA<tspan font-size="7.6" dy="3">4</tspan><tspan dy="-3">-MBAA</tspan><tspan font-size="7.6" dy="3">0.05</tspan></text>
<rect x="81.8" y="575.3" width="87.10000000000001" height="64.70000000000005" fill="#fff" stroke="#666" stroke-width="1"/>
<path d="M82.1,639.6 L83.2,607.7 L85.2,595.1 L87.7,591.3 L91.5,593.8 L100.3,598.9 L110.3,602.6 L120.4,605.2 L128.0,606.4 L131.7,610.2 L135.5,612.7 L140.5,615.2 L144.3,617.8 L148.1,617.3 L153.1,615.2 L156.9,620.3 L160.7,630.3 L163.7,639.6" fill="none" stroke="#f4ae86" stroke-width="1.4" stroke-linejoin="round" stroke-linecap="round" />
<line x1="82.8" y1="640.0" x2="82.8" y2="641.5" stroke="#666" stroke-width="0.8" />
<text x="82.8" y="646.5" font-family='"Liberation Sans", sans-serif' font-size="4.5" font-weight="bold" fill="#555" text-anchor="middle" >0</text>
<line x1="104.1" y1="640.0" x2="104.1" y2="641.5" stroke="#666" stroke-width="0.8" />
<text x="104.1" y="646.5" font-family='"Liberation Sans", sans-serif' font-size="4.5" font-weight="bold" fill="#555" text-anchor="middle" >300</text>
<line x1="125.3" y1="640.0" x2="125.3" y2="641.5" stroke="#666" stroke-width="0.8" />
<text x="125.3" y="646.5" font-family='"Liberation Sans", sans-serif' font-size="4.5" font-weight="bold" fill="#555" text-anchor="middle" >600</text>
<line x1="146.6" y1="640.0" x2="146.6" y2="641.5" stroke="#666" stroke-width="0.8" />
<text x="146.6" y="646.5" font-family='"Liberation Sans", sans-serif' font-size="4.5" font-weight="bold" fill="#555" text-anchor="middle" >900</text>
<line x1="167.9" y1="640.0" x2="167.9" y2="641.5" stroke="#666" stroke-width="0.8" />
<text x="167.9" y="646.5" font-family='"Liberation Sans", sans-serif' font-size="4.5" font-weight="bold" fill="#555" text-anchor="middle" >1200</text>
<line x1="80.3" y1="639.0" x2="81.8" y2="639.0" stroke="#666" stroke-width="0.8" />
<line x1="80.3" y1="622.1" x2="81.8" y2="622.1" stroke="#666" stroke-width="0.8" />
<line x1="80.3" y1="605.3" x2="81.8" y2="605.3" stroke="#666" stroke-width="0.8" />
<line x1="80.3" y1="588.4" x2="81.8" y2="588.4" stroke="#666" stroke-width="0.8" />
<text x="124.8" y="655.0" font-family='"Liberation Sans", sans-serif' font-size="5.5" font-weight="bold" fill="#555" text-anchor="middle" >Strain (%)</text>
<text x="0.0" y="0.0" font-family='"Liberation Sans", sans-serif' font-size="5.5" font-weight="bold" fill="#555" text-anchor="middle" transform="translate(75,600) rotate(-90)">Stress (kPa)</text>
<path d="M540.5,761.6 L541.6,761.5 L542.6,761.4 L543.7,761.4 L544.8,761.3 L545.9,761.2 L547.0,761.2 L548.1,761.1 L549.2,761.0 L550.3,760.9 L551.4,760.8 L552.5,760.6 L553.6,760.5 L554.6,760.4 L555.7,760.2 L556.8,760.0 L557.9,759.8 L559.0,759.6 L560.1,759.4 L561.2,759.1 L562.3,758.8 L563.4,758.5 L564.5,758.2 L565.5,757.8 L566.6,757.4 L567.7,756.9 L568.8,756.4 L569.9,755.9 L571.0,755.3 L572.1,754.6 L573.2,753.8 L574.3,753.0 L575.4,752.1 L576.5,751.1 L577.5,750.0 L578.6,748.8 L579.7,747.4 L580.8,745.9 L581.9,744.3 L583.0,742.5 L584.1,740.4 L585.2,738.2 L586.3,735.8 L587.4,733.1 L588.4,730.1 L589.5,726.8 L590.6,723.1 L591.7,719.1 L592.8,714.6 L593.9,709.7 L595.0,704.3 L596.1,698.2 L597.2,691.6 L598.3,684.3 L599.4,676.1 L600.4,667.2 L601.5,657.3 L602.6,646.3 L603.7,634.2 L604.8,620.9 L605.9,606.1" fill="none" stroke="#8ad3c7" stroke-width="2.2" stroke-linejoin="round" stroke-linecap="round" />
<path d="M398.7,763.6 L399.8,763.6 L400.9,763.6 L402.0,763.6 L403.1,763.6 L404.2,763.6 L405.2,763.6 L406.3,763.6 L407.4,763.6 L408.5,763.6 L409.6,763.6 L410.7,763.6 L411.8,763.6 L412.9,763.6 L414.0,763.6 L415.1,763.6 L416.1,763.6 L417.2,763.6 L418.3,763.6 L419.4,763.6 L420.5,763.6 L421.6,763.6 L422.7,763.6 L423.8,763.6 L424.9,763.6 L426.0,763.6 L427.1,763.6 L428.1,763.6 L429.2,763.6 L430.3,763.6 L431.4,763.6 L432.5,763.6 L433.6,763.6 L434.7,763.6 L435.8,763.6 L436.9,763.6 L438.0,763.6 L439.0,763.6 L440.1,763.6 L441.2,763.6 L442.3,763.6 L443.4,763.6 L444.5,763.6 L445.6,763.6 L446.7,763.6 L447.8,763.6 L448.9,763.6 L450.0,763.6 L451.0,763.6 L452.1,763.6 L453.2,763.6 L454.3,763.6 L455.4,763.6 L456.5,763.6 L457.6,763.6 L458.7,763.6 L459.8,763.6 L460.9,763.6 L461.9,763.6 L463.0,763.6 L464.1,763.6 L465.2,763.6 L466.3,763.6 L467.4,763.6 L468.5,763.6 L469.6,763.6 L470.7,763.6 L471.8,763.6 L472.9,763.6 L473.9,763.6 L475.0,763.6 L476.1,763.6 L477.2,763.6 L478.3,763.6 L479.4,763.6 L480.5,763.6 L481.6,763.6 L482.7,763.6 L483.8,763.6 L484.8,763.6 L485.9,763.6 L487.0,763.6 L488.1,763.6 L489.2,763.6 L490.3,763.6 L491.4,763.6 L492.5,763.6 L493.6,763.6 L494.7,763.6 L495.8,763.6 L496.8,763.6 L497.9,763.6 L499.0,763.6 L500.1,763.6 L501.2,763.6 L502.3,763.6 L503.4,763.6 L504.5,763.6 L505.6,763.6 L506.7,763.6 L507.8,763.6 L508.8,763.6 L509.9,763.6 L511.0,763.6 L512.1,763.6 L513.2,763.6 L514.3,763.6 L515.4,763.6 L516.5,763.6 L517.6,763.6 L518.7,763.6 L519.7,763.6 L520.8,763.6 L521.9,763.6 L523.0,763.6 L524.1,763.6 L525.2,763.6 L526.3,763.6 L527.4,763.6 L528.5,763.6 L529.6,763.6 L530.7,763.6 L531.7,763.6 L532.8,763.6 L533.9,763.6 L535.0,763.6 L536.1,763.6 L537.2,763.6 L538.3,763.6 L539.4,763.6 L540.5,763.6 L541.6,763.6 L542.6,763.6 L543.7,763.6 L544.8,763.6 L545.9,763.6 L547.0,763.6 L548.1,763.6 L549.2,763.6 L550.3,763.5 L551.4,763.5 L552.5,763.5 L553.6,763.5 L554.6,763.5 L555.7,763.5 L556.8,763.5 L557.9,763.5 L559.0,763.5 L560.1,763.4 L561.2,763.4 L562.3,763.4 L563.4,763.4 L564.5,763.3 L565.5,763.3 L566.6,763.2 L567.7,763.2 L568.8,763.1 L569.9,763.1 L571.0,763.0 L572.1,762.9 L573.2,762.8 L574.3,762.7 L575.4,762.6 L576.5,762.5 L577.5,762.3 L578.6,762.2 L579.7,762.0 L580.8,761.8 L581.9,761.5 L583.0,761.3 L584.1,760.9 L585.2,760.6 L586.3,760.2 L587.4,759.7 L588.4,759.2 L589.5,758.6 L590.6,758.0 L591.7,757.2 L592.8,756.4 L593.9,755.4 L595.0,754.3 L596.1,753.1 L597.2,751.7 L598.3,750.1 L599.4,748.3 L600.4,746.3 L601.5,744.0 L602.6,741.3 L603.7,738.4 L604.8,735.0 L605.9,731.2" fill="none" stroke="#f4ae86" stroke-width="2.4" stroke-linejoin="round" stroke-linecap="round" />
<rect x="377" y="571.7" width="262.5" height="212.5999999999999" fill="none" stroke="#3a3a3a" stroke-width="2.2"/>
<line x1="372.5" y1="763.6" x2="377.0" y2="763.6" stroke="#3a3a3a" stroke-width="1.8" />
<text x="370.5" y="769.1" font-family='"Liberation Sans", sans-serif' font-size="15.5" font-weight="bold" fill="#333" text-anchor="end" >0</text>
<line x1="372.5" y1="721.0" x2="377.0" y2="721.0" stroke="#3a3a3a" stroke-width="1.8" />
<text x="370.5" y="726.5" font-family='"Liberation Sans", sans-serif' font-size="15.5" font-weight="bold" fill="#333" text-anchor="end" >5</text>
<line x1="372.5" y1="678.4" x2="377.0" y2="678.4" stroke="#3a3a3a" stroke-width="1.8" />
<text x="370.5" y="683.9" font-family='"Liberation Sans", sans-serif' font-size="15.5" font-weight="bold" fill="#333" text-anchor="end" >10</text>
<line x1="372.5" y1="635.8" x2="377.0" y2="635.8" stroke="#3a3a3a" stroke-width="1.8" />
<text x="370.5" y="641.3" font-family='"Liberation Sans", sans-serif' font-size="15.5" font-weight="bold" fill="#333" text-anchor="end" >15</text>
<line x1="372.5" y1="593.2" x2="377.0" y2="593.2" stroke="#3a3a3a" stroke-width="1.8" />
<text x="370.5" y="598.7" font-family='"Liberation Sans", sans-serif' font-size="15.5" font-weight="bold" fill="#333" text-anchor="end" >20</text>
<line x1="374.0" y1="742.3" x2="377.0" y2="742.3" stroke="#3a3a3a" stroke-width="1.5" />
<line x1="374.0" y1="699.7" x2="377.0" y2="699.7" stroke="#3a3a3a" stroke-width="1.5" />
<line x1="374.0" y1="657.1" x2="377.0" y2="657.1" stroke="#3a3a3a" stroke-width="1.5" />
<line x1="374.0" y1="614.5" x2="377.0" y2="614.5" stroke="#3a3a3a" stroke-width="1.5" />
<line x1="398.7" y1="784.3" x2="398.7" y2="788.8" stroke="#3a3a3a" stroke-width="1.8" />
<text x="398.7" y="803.8" font-family='"Liberation Sans", sans-serif' font-size="15.5" font-weight="bold" fill="#333" text-anchor="middle" >0</text>
<line x1="442.3" y1="784.3" x2="442.3" y2="788.8" stroke="#3a3a3a" stroke-width="1.8" />
<text x="442.3" y="803.8" font-family='"Liberation Sans", sans-serif' font-size="15.5" font-weight="bold" fill="#333" text-anchor="middle" >20</text>
<line x1="485.9" y1="784.3" x2="485.9" y2="788.8" stroke="#3a3a3a" stroke-width="1.8" />
<text x="485.9" y="803.8" font-family='"Liberation Sans", sans-serif' font-size="15.5" font-weight="bold" fill="#333" text-anchor="middle" >40</text>
<line x1="529.6" y1="784.3" x2="529.6" y2="788.8" stroke="#3a3a3a" stroke-width="1.8" />
<text x="529.6" y="803.8" font-family='"Liberation Sans", sans-serif' font-size="15.5" font-weight="bold" fill="#333" text-anchor="middle" >60</text>
<line x1="573.2" y1="784.3" x2="573.2" y2="788.8" stroke="#3a3a3a" stroke-width="1.8" />
<text x="573.2" y="803.8" font-family='"Liberation Sans", sans-serif' font-size="15.5" font-weight="bold" fill="#333" text-anchor="middle" >80</text>
<line x1="616.8" y1="784.3" x2="616.8" y2="788.8" stroke="#3a3a3a" stroke-width="1.8" />
<text x="616.8" y="803.8" font-family='"Liberation Sans", sans-serif' font-size="15.5" font-weight="bold" fill="#333" text-anchor="middle" >100</text>
<line x1="376.9" y1="784.3" x2="376.9" y2="787.3" stroke="#3a3a3a" stroke-width="1.5" />
<line x1="420.5" y1="784.3" x2="420.5" y2="787.3" stroke="#3a3a3a" stroke-width="1.5" />
<line x1="464.1" y1="784.3" x2="464.1" y2="787.3" stroke="#3a3a3a" stroke-width="1.5" />
<line x1="507.8" y1="784.3" x2="507.8" y2="787.3" stroke="#3a3a3a" stroke-width="1.5" />
<line x1="551.4" y1="784.3" x2="551.4" y2="787.3" stroke="#3a3a3a" stroke-width="1.5" />
<line x1="595.0" y1="784.3" x2="595.0" y2="787.3" stroke="#3a3a3a" stroke-width="1.5" />
<text x="508.0" y="827.0" font-family='"Liberation Sans", sans-serif' font-size="20.8" font-weight="bold" fill="#333" text-anchor="middle" >Strain (%)</text>
<text x="0.0" y="0.0" font-family='"Liberation Sans", sans-serif' font-size="20.8" font-weight="bold" fill="#333" text-anchor="middle" transform="translate(350.3,676) rotate(-90)">Stress (MPa)</text>
<line x1="520.3" y1="579.5" x2="544.8" y2="579.5" stroke="#8ad3c7" stroke-width="2.4" />
<line x1="520.3" y1="597.2" x2="544.8" y2="597.2" stroke="#f4ae86" stroke-width="2.4" />
<text x="546.6" y="583.5" font-family='"Liberation Sans", sans-serif' font-size="11" font-weight="bold" fill="#2a2a2a">PACG<tspan font-size="7.2" dy="3">4</tspan><tspan dy="-3">-MBAA</tspan><tspan font-size="7.2" dy="3">0.05</tspan></text>
<text x="546.6" y="601.2" font-family='"Liberation Sans", sans-serif' font-size="11" font-weight="bold" fill="#2a2a2a">PAA<tspan font-size="7.2" dy="3">4</tspan><tspan dy="-3">-MBAA</tspan><tspan font-size="7.2" dy="3">0.05</tspan></text>
<rect x="396" y="577" width="95.10000000000002" height="73.39999999999998" fill="#fff" stroke="#666" stroke-width="1"/>
<path d="M402.4,642.0 L403.2,642.0 L404.0,642.0 L404.7,642.0 L405.5,642.0 L406.3,642.0 L407.1,642.0 L407.9,642.0 L408.7,642.0 L409.4,642.0 L410.2,642.0 L411.0,642.0 L411.8,642.0 L412.6,642.0 L413.3,642.0 L414.1,642.0 L414.9,642.0 L415.7,642.0 L416.5,642.0 L417.3,642.0 L418.0,642.0 L418.8,642.0 L419.6,642.0 L420.4,642.0 L421.2,642.0 L421.9,642.0 L422.7,642.0 L423.5,642.0 L424.3,642.0 L425.1,642.0 L425.9,642.0 L426.6,642.0 L427.4,642.0 L428.2,642.0 L429.0,642.0 L429.8,642.0 L430.6,642.0 L431.3,642.0 L432.1,642.0 L432.9,642.0 L433.7,642.0 L434.5,642.0 L435.2,642.0 L436.0,642.0 L436.8,642.0 L437.6,642.0 L438.4,642.0 L439.2,642.0 L439.9,642.0 L440.7,642.0 L441.5,642.0 L442.3,642.0 L443.1,642.0 L443.8,642.0 L444.6,642.0 L445.4,642.0 L446.2,642.0 L447.0,642.0 L447.8,642.0 L448.5,642.0 L449.3,642.0 L450.1,642.0 L450.9,642.0 L451.7,641.9 L452.4,641.9 L453.2,641.9 L454.0,641.9 L454.8,641.9 L455.6,641.8 L456.4,641.8 L457.1,641.7 L457.9,641.7 L458.7,641.6 L459.5,641.5 L460.3,641.4 L461.0,641.2 L461.8,641.0 L462.6,640.8 L463.4,640.5 L464.2,640.1 L465.0,639.7 L465.7,639.1 L466.5,638.4 L467.3,637.5 L468.1,636.4 L468.9,635.1 L469.7,633.4 L470.4,631.3 L471.2,628.7 L472.0,625.5 L472.8,621.5 L473.6,616.6 L474.3,610.4 L475.1,602.7 L475.9,593.1 L476.7,581.3" fill="none" stroke="#f4ae86" stroke-width="1.4" stroke-linejoin="round" stroke-linecap="round" />
<line x1="402.4" y1="650.4" x2="402.4" y2="651.9" stroke="#666" stroke-width="0.8" />
<text x="402.4" y="656.9" font-family='"Liberation Sans", sans-serif' font-size="4.5" font-weight="bold" fill="#555" text-anchor="middle" >0</text>
<line x1="418.0" y1="650.4" x2="418.0" y2="651.9" stroke="#666" stroke-width="0.8" />
<text x="418.0" y="656.9" font-family='"Liberation Sans", sans-serif' font-size="4.5" font-weight="bold" fill="#555" text-anchor="middle" >20</text>
<line x1="433.7" y1="650.4" x2="433.7" y2="651.9" stroke="#666" stroke-width="0.8" />
<text x="433.7" y="656.9" font-family='"Liberation Sans", sans-serif' font-size="4.5" font-weight="bold" fill="#555" text-anchor="middle" >40</text>
<line x1="449.3" y1="650.4" x2="449.3" y2="651.9" stroke="#666" stroke-width="0.8" />
<text x="449.3" y="656.9" font-family='"Liberation Sans", sans-serif' font-size="4.5" font-weight="bold" fill="#555" text-anchor="middle" >60</text>
<line x1="465.0" y1="650.4" x2="465.0" y2="651.9" stroke="#666" stroke-width="0.8" />
<text x="465.0" y="656.9" font-family='"Liberation Sans", sans-serif' font-size="4.5" font-weight="bold" fill="#555" text-anchor="middle" >80</text>
<line x1="480.6" y1="650.4" x2="480.6" y2="651.9" stroke="#666" stroke-width="0.8" />
<text x="480.6" y="656.9" font-family='"Liberation Sans", sans-serif' font-size="4.5" font-weight="bold" fill="#555" text-anchor="middle" >100</text>
<text x="443.0" y="666.0" font-family='"Liberation Sans", sans-serif' font-size="5.5" font-weight="bold" fill="#555" text-anchor="middle" >Strain (%)</text>
<text x="0.0" y="0.0" font-family='"Liberation Sans", sans-serif' font-size="5.5" font-weight="bold" fill="#555" text-anchor="middle" transform="translate(389,612) rotate(-90)">Stress (MPa)</text>
<line x1="394.5" y1="642.0" x2="396.0" y2="642.0" stroke="#666" stroke-width="0.8" />
<line x1="394.5" y1="628.8" x2="396.0" y2="628.8" stroke="#666" stroke-width="0.8" />
<line x1="394.5" y1="615.6" x2="396.0" y2="615.6" stroke="#666" stroke-width="0.8" />
<line x1="394.5" y1="602.4" x2="396.0" y2="602.4" stroke="#666" stroke-width="0.8" />
<line x1="394.5" y1="589.2" x2="396.0" y2="589.2" stroke="#666" stroke-width="0.8" />
<defs><linearGradient id="gpk" x1="0" x2="1"><stop offset="0" stop-color="#e0b2c0"/><stop offset="0.17" stop-color="#e0b2c0"/><stop offset="0.42" stop-color="#fff"/><stop offset="0.68" stop-color="#fff"/><stop offset="0.84" stop-color="#e0b2c0"/><stop offset="1" stop-color="#e0b2c0"/></linearGradient><linearGradient id="gbl" x1="0" x2="1"><stop offset="0" stop-color="#8cb8e0"/><stop offset="0.17" stop-color="#8cb8e0"/><stop offset="0.42" stop-color="#fff"/><stop offset="0.68" stop-color="#fff"/><stop offset="0.84" stop-color="#8cb8e0"/><stop offset="1" stop-color="#8cb8e0"/></linearGradient><linearGradient id="gol" x1="0" x2="1"><stop offset="0" stop-color="#bab688"/><stop offset="0.17" stop-color="#bab688"/><stop offset="0.42" stop-color="#fff"/><stop offset="0.68" stop-color="#fff"/><stop offset="0.84" stop-color="#bab688"/><stop offset="1" stop-color="#bab688"/></linearGradient><linearGradient id="gpu" x1="0" x2="1"><stop offset="0" stop-color="#d0bde6"/><stop offset="0.17" stop-color="#d0bde6"/><stop offset="0.42" stop-color="#fff"/><stop offset="0.68" stop-color="#fff"/><stop offset="0.84" stop-color="#d0bde6"/><stop offset="1" stop-color="#d0bde6"/></linearGradient></defs>
<rect x="756.3" y="780.0" width="25.600000000000023" height="2.2999999999999545" fill="url(#gpk)"/>
<rect x="781.9" y="763.3" width="25.5" height="19.0" fill="url(#gbl)"/>
<rect x="807.4" y="753.3" width="25.600000000000023" height="29.0" fill="url(#gol)"/>
<rect x="833" y="773.7" width="26.799999999999955" height="8.599999999999909" fill="url(#gpu)"/>
<rect x="885.9" y="647.2" width="25.899999999999977" height="135.0999999999999" fill="url(#gpk)"/>
<rect x="911.8" y="684.4" width="25.90000000000009" height="97.89999999999998" fill="url(#gbl)"/>
<rect x="937.7" y="645" width="26.0" height="137.29999999999995" fill="url(#gol)"/>
<rect x="963.7" y="613.3" width="25.899999999999977" height="169.0" fill="url(#gpu)"/>
<line x1="769.0" y1="780.5" x2="769.0" y2="782.0" stroke="#1a1a1a" stroke-width="2.4" />
<line x1="765.2" y1="780.5" x2="772.8" y2="780.5" stroke="#1a1a1a" stroke-width="2.4" />
<line x1="765.2" y1="782.0" x2="772.8" y2="782.0" stroke="#1a1a1a" stroke-width="2.4" />
<line x1="795.8" y1="759.0" x2="795.8" y2="766.7" stroke="#1a1a1a" stroke-width="2.4" />
<line x1="792.0" y1="759.0" x2="799.6" y2="759.0" stroke="#1a1a1a" stroke-width="2.4" />
<line x1="792.0" y1="766.7" x2="799.6" y2="766.7" stroke="#1a1a1a" stroke-width="2.4" />
<line x1="821.4" y1="747.4" x2="821.4" y2="757.4" stroke="#1a1a1a" stroke-width="2.4" />
<line x1="817.6" y1="747.4" x2="825.2" y2="747.4" stroke="#1a1a1a" stroke-width="2.4" />
<line x1="817.6" y1="757.4" x2="825.2" y2="757.4" stroke="#1a1a1a" stroke-width="2.4" />
<line x1="848.1" y1="772.6" x2="848.1" y2="775.3" stroke="#1a1a1a" stroke-width="2.4" />
<line x1="844.3" y1="772.6" x2="851.9" y2="772.6" stroke="#1a1a1a" stroke-width="2.4" />
<line x1="844.3" y1="775.3" x2="851.9" y2="775.3" stroke="#1a1a1a" stroke-width="2.4" />
<line x1="898.9" y1="640.6" x2="898.9" y2="653.6" stroke="#1a1a1a" stroke-width="2.4" />
<line x1="895.1" y1="640.6" x2="902.7" y2="640.6" stroke="#1a1a1a" stroke-width="2.4" />
<line x1="895.1" y1="653.6" x2="902.7" y2="653.6" stroke="#1a1a1a" stroke-width="2.4" />
<line x1="925.6" y1="668.8" x2="925.6" y2="700.5" stroke="#1a1a1a" stroke-width="2.4" />
<line x1="921.8" y1="668.8" x2="929.4" y2="668.8" stroke="#1a1a1a" stroke-width="2.4" />
<line x1="921.8" y1="700.5" x2="929.4" y2="700.5" stroke="#1a1a1a" stroke-width="2.4" />
<line x1="951.6" y1="632.6" x2="951.6" y2="657.3" stroke="#1a1a1a" stroke-width="2.4" />
<line x1="947.8" y1="632.6" x2="955.4" y2="632.6" stroke="#1a1a1a" stroke-width="2.4" />
<line x1="947.8" y1="657.3" x2="955.4" y2="657.3" stroke="#1a1a1a" stroke-width="2.4" />
<line x1="977.5" y1="591.7" x2="977.5" y2="634.3" stroke="#1a1a1a" stroke-width="2.4" />
<line x1="973.7" y1="591.7" x2="981.3" y2="591.7" stroke="#1a1a1a" stroke-width="2.4" />
<line x1="973.7" y1="634.3" x2="981.3" y2="634.3" stroke="#1a1a1a" stroke-width="2.4" />
<line x1="742.0" y1="570.6" x2="1003.3" y2="570.6" stroke="#444" stroke-width="2.2" />
<line x1="742.0" y1="782.3" x2="1003.3" y2="782.3" stroke="#222" stroke-width="2.2" />
<line x1="742.0" y1="570.6" x2="742.0" y2="782.3" stroke="#a7838d" stroke-width="2" />
<line x1="1003.3" y1="569.6" x2="1003.3" y2="783.3" stroke="#5a84a2" stroke-width="2" />
<line x1="807.4" y1="782.3" x2="807.4" y2="786.3" stroke="#222" stroke-width="1.6" />
<line x1="872.6" y1="782.3" x2="872.6" y2="786.3" stroke="#222" stroke-width="1.6" />
<line x1="937.7" y1="782.3" x2="937.7" y2="786.3" stroke="#222" stroke-width="1.6" />
<text x="808.0" y="809.0" font-family='"Liberation Sans", sans-serif' font-size="24" font-weight="bold" fill="#1a1a1a" text-anchor="middle" >PAA</text>
<text x="937.0" y="809.0" font-family='"Liberation Sans", sans-serif' font-size="24" font-weight="bold" fill="#1a1a1a" text-anchor="middle" >PACG</text>
<line x1="703.0" y1="570.6" x2="703.0" y2="782.3" stroke="#6a78ad" stroke-width="2" />
<line x1="699.0" y1="782.3" x2="703.0" y2="782.3" stroke="#6a78ad" stroke-width="1.6" />
<text x="696.5" y="788.3" font-family='"Liberation Sans", sans-serif' font-size="17" font-weight="bold" fill="#6a78ad" text-anchor="end" >0</text>
<line x1="700.5" y1="761.1" x2="703.0" y2="761.1" stroke="#6a78ad" stroke-width="1.4" />
<line x1="699.0" y1="740.0" x2="703.0" y2="740.0" stroke="#6a78ad" stroke-width="1.6" />
<text x="696.5" y="746.0" font-family='"Liberation Sans", sans-serif' font-size="17" font-weight="bold" fill="#6a78ad" text-anchor="end" >20</text>
<line x1="700.5" y1="718.8" x2="703.0" y2="718.8" stroke="#6a78ad" stroke-width="1.4" />
<line x1="699.0" y1="697.6" x2="703.0" y2="697.6" stroke="#6a78ad" stroke-width="1.6" />
<text x="696.5" y="703.6" font-family='"Liberation Sans", sans-serif' font-size="17" font-weight="bold" fill="#6a78ad" text-anchor="end" >40</text>
<line x1="700.5" y1="676.5" x2="703.0" y2="676.5" stroke="#6a78ad" stroke-width="1.4" />
<line x1="699.0" y1="655.3" x2="703.0" y2="655.3" stroke="#6a78ad" stroke-width="1.6" />
<text x="696.5" y="661.3" font-family='"Liberation Sans", sans-serif' font-size="17" font-weight="bold" fill="#6a78ad" text-anchor="end" >60</text>
<line x1="700.5" y1="634.1" x2="703.0" y2="634.1" stroke="#6a78ad" stroke-width="1.4" />
<line x1="699.0" y1="612.9" x2="703.0" y2="612.9" stroke="#6a78ad" stroke-width="1.6" />
<text x="696.5" y="618.9" font-family='"Liberation Sans", sans-serif' font-size="17" font-weight="bold" fill="#6a78ad" text-anchor="end" >80</text>
<line x1="700.5" y1="591.8" x2="703.0" y2="591.8" stroke="#6a78ad" stroke-width="1.4" />
<line x1="699.0" y1="570.6" x2="703.0" y2="570.6" stroke="#6a78ad" stroke-width="1.6" />
<text x="696.5" y="576.6" font-family='"Liberation Sans", sans-serif' font-size="17" font-weight="bold" fill="#6a78ad" text-anchor="end" >100</text>
<line x1="738.0" y1="782.3" x2="742.0" y2="782.3" stroke="#a7838d" stroke-width="1.6" />
<text x="735.5" y="788.3" font-family='"Liberation Sans", sans-serif' font-size="17" font-weight="bold" fill="#a7838d" text-anchor="end" >0</text>
<line x1="739.5" y1="761.1" x2="742.0" y2="761.1" stroke="#a7838d" stroke-width="1.4" />
<line x1="738.0" y1="740.0" x2="742.0" y2="740.0" stroke="#a7838d" stroke-width="1.6" />
<text x="735.5" y="746.0" font-family='"Liberation Sans", sans-serif' font-size="17" font-weight="bold" fill="#a7838d" text-anchor="end" >40</text>
<line x1="739.5" y1="718.8" x2="742.0" y2="718.8" stroke="#a7838d" stroke-width="1.4" />
<line x1="738.0" y1="697.6" x2="742.0" y2="697.6" stroke="#a7838d" stroke-width="1.6" />
<text x="735.5" y="703.6" font-family='"Liberation Sans", sans-serif' font-size="17" font-weight="bold" fill="#a7838d" text-anchor="end" >80</text>
<line x1="739.5" y1="676.5" x2="742.0" y2="676.5" stroke="#a7838d" stroke-width="1.4" />
<line x1="738.0" y1="655.3" x2="742.0" y2="655.3" stroke="#a7838d" stroke-width="1.6" />
<text x="735.5" y="661.3" font-family='"Liberation Sans", sans-serif' font-size="17" font-weight="bold" fill="#a7838d" text-anchor="end" >120</text>
<line x1="739.5" y1="634.1" x2="742.0" y2="634.1" stroke="#a7838d" stroke-width="1.4" />
<line x1="738.0" y1="612.9" x2="742.0" y2="612.9" stroke="#a7838d" stroke-width="1.6" />
<text x="735.5" y="618.9" font-family='"Liberation Sans", sans-serif' font-size="17" font-weight="bold" fill="#a7838d" text-anchor="end" >160</text>
<line x1="739.5" y1="591.8" x2="742.0" y2="591.8" stroke="#a7838d" stroke-width="1.4" />
<line x1="738.0" y1="570.6" x2="742.0" y2="570.6" stroke="#a7838d" stroke-width="1.6" />
<text x="735.5" y="576.6" font-family='"Liberation Sans", sans-serif' font-size="17" font-weight="bold" fill="#a7838d" text-anchor="end" >200</text>
<line x1="1003.3" y1="782.3" x2="1007.3" y2="782.3" stroke="#5a84a2" stroke-width="1.6" />
<text x="1009.8" y="788.3" font-family='"Liberation Sans", sans-serif' font-size="17" font-weight="bold" fill="#5a84a2" text-anchor="start" >0</text>
<line x1="1003.3" y1="761.1" x2="1005.8" y2="761.1" stroke="#5a84a2" stroke-width="1.4" />
<line x1="1003.3" y1="740.0" x2="1007.3" y2="740.0" stroke="#5a84a2" stroke-width="1.6" />
<text x="1009.8" y="746.0" font-family='"Liberation Sans", sans-serif' font-size="17" font-weight="bold" fill="#5a84a2" text-anchor="start" >8</text>
<line x1="1003.3" y1="718.8" x2="1005.8" y2="718.8" stroke="#5a84a2" stroke-width="1.4" />
<line x1="1003.3" y1="697.6" x2="1007.3" y2="697.6" stroke="#5a84a2" stroke-width="1.6" />
<text x="1009.8" y="703.6" font-family='"Liberation Sans", sans-serif' font-size="17" font-weight="bold" fill="#5a84a2" text-anchor="start" >16</text>
<line x1="1003.3" y1="676.5" x2="1005.8" y2="676.5" stroke="#5a84a2" stroke-width="1.4" />
<line x1="1003.3" y1="655.3" x2="1007.3" y2="655.3" stroke="#5a84a2" stroke-width="1.6" />
<text x="1009.8" y="661.3" font-family='"Liberation Sans", sans-serif' font-size="17" font-weight="bold" fill="#5a84a2" text-anchor="start" >24</text>
<line x1="1003.3" y1="634.1" x2="1005.8" y2="634.1" stroke="#5a84a2" stroke-width="1.4" />
<line x1="1003.3" y1="612.9" x2="1007.3" y2="612.9" stroke="#5a84a2" stroke-width="1.6" />
<text x="1009.8" y="618.9" font-family='"Liberation Sans", sans-serif' font-size="17" font-weight="bold" fill="#5a84a2" text-anchor="start" >32</text>
<line x1="1003.3" y1="591.8" x2="1005.8" y2="591.8" stroke="#5a84a2" stroke-width="1.4" />
<line x1="1003.3" y1="570.6" x2="1007.3" y2="570.6" stroke="#5a84a2" stroke-width="1.6" />
<text x="1009.8" y="576.6" font-family='"Liberation Sans", sans-serif' font-size="17" font-weight="bold" fill="#5a84a2" text-anchor="start" >40</text>
<line x1="1034.2" y1="570.6" x2="1034.2" y2="782.3" stroke="#857c98" stroke-width="2" />
<line x1="1034.2" y1="782.3" x2="1038.2" y2="782.3" stroke="#857c98" stroke-width="1.6" />
<text x="1039.2" y="788.3" font-family='"Liberation Sans", sans-serif' font-size="17" font-weight="bold" fill="#857c98" text-anchor="start" >0.0</text>
<line x1="1034.2" y1="761.1" x2="1036.7" y2="761.1" stroke="#857c98" stroke-width="1.4" />
<line x1="1034.2" y1="740.0" x2="1038.2" y2="740.0" stroke="#857c98" stroke-width="1.6" />
<text x="1039.2" y="746.0" font-family='"Liberation Sans", sans-serif' font-size="17" font-weight="bold" fill="#857c98" text-anchor="start" >0.1</text>
<line x1="1034.2" y1="718.8" x2="1036.7" y2="718.8" stroke="#857c98" stroke-width="1.4" />
<line x1="1034.2" y1="697.6" x2="1038.2" y2="697.6" stroke="#857c98" stroke-width="1.6" />
<text x="1039.2" y="703.6" font-family='"Liberation Sans", sans-serif' font-size="17" font-weight="bold" fill="#857c98" text-anchor="start" >0.2</text>
<line x1="1034.2" y1="676.5" x2="1036.7" y2="676.5" stroke="#857c98" stroke-width="1.4" />
<line x1="1034.2" y1="655.3" x2="1038.2" y2="655.3" stroke="#857c98" stroke-width="1.6" />
<text x="1039.2" y="661.3" font-family='"Liberation Sans", sans-serif' font-size="17" font-weight="bold" fill="#857c98" text-anchor="start" >0.3</text>
<line x1="1034.2" y1="634.1" x2="1036.7" y2="634.1" stroke="#857c98" stroke-width="1.4" />
<line x1="1034.2" y1="612.9" x2="1038.2" y2="612.9" stroke="#857c98" stroke-width="1.6" />
<text x="1039.2" y="618.9" font-family='"Liberation Sans", sans-serif' font-size="17" font-weight="bold" fill="#857c98" text-anchor="start" >0.4</text>
<line x1="1034.2" y1="591.8" x2="1036.7" y2="591.8" stroke="#857c98" stroke-width="1.4" />
<line x1="1034.2" y1="570.6" x2="1038.2" y2="570.6" stroke="#857c98" stroke-width="1.6" />
<text x="1039.2" y="576.6" font-family='"Liberation Sans", sans-serif' font-size="17" font-weight="bold" fill="#857c98" text-anchor="start" >0.5</text>
<rect x="748.1" y="576.2" width="28.6" height="12.2" fill="url(#gpk)"/>
<text x="780.7" y="586.4" font-family='"Liberation Sans", sans-serif' font-size="12.8" font-weight="bold" fill="#222" text-anchor="start" >tensile strength (kPa)</text>
<rect x="748.1" y="592.5" width="28.6" height="12.2" fill="url(#gbl)"/>
<text x="780.7" y="602.7" font-family='"Liberation Sans", sans-serif' font-size="12.8" font-weight="bold" fill="#222" text-anchor="start" >compression strength (MPa)</text>
<rect x="748.1" y="608.8" width="28.6" height="12.2" fill="url(#gol)"/>
<text x="780.7" y="619.0" font-family='"Liberation Sans", sans-serif' font-size="12.8" font-weight="bold" fill="#222" text-anchor="start" >Young's modulus (kPa)</text>
<rect x="748.1" y="626" width="28.6" height="12.2" fill="url(#gpu)"/>
<text x="780.7" y="636.3" font-family='"Liberation Sans", sans-serif' font-size="12.8" font-weight="bold" fill="#222" text-anchor="start" >toughness (MJ/m<tspan font-size="8" dy="-4">3</tspan><tspan dy="4">)</tspan></text>
<rect x="639.1" y="355.3" width="199.3" height="149.2" rx="20" fill="#a3a3c9"/>
<defs><clipPath id="pp"><rect x="639.1" y="355.3" width="199.3" height="149.2" rx="20"/></clipPath><clipPath id="pg"><rect x="873.2" y="360.8" width="187.1" height="142.7" rx="17"/></clipPath></defs>
<g clip-path="url(#pp)">
<path d="M675.5,353 C676,360 676,364 672,369 C666,375 661,378 663,384 C666,390 668,392 663,398 C658,403 655,407 655,413 C655,420 652,425 646,431 C642,435 640,437 637,439" fill="none" stroke="#f2b928" stroke-width="3"/>
<path d="M742.7,428.2 C733,432 725,436 721,442 C716,449 714,455 712,461 C710,467 708,472 704,477 C699,483 694,487 690,492 C686,497 682,500 679,505" fill="none" stroke="#f2b928" stroke-width="3"/>
<path d="M781.4,354 C788,358 793,359 798.5,361 C804,363 808,365 812.2,366.7 C818,368 822,369 824,372 C827,377 829,382 831,386 C833,389 836,392 840,394" fill="none" stroke="#f2b928" stroke-width="3"/>
<path d="M840,445 C834,447 830,450 828,454 C826,459 826,463 825.9,466 C825,472 824,477 821,480 C817,483 809,483 803,484 C797,486 794,490 789,495 C784,499 778,501 772,504" fill="none" stroke="#f2b928" stroke-width="3"/>
<polyline points="665.3,403.1 677.8,412.2 685.0,409.0" fill="none" stroke="#1c1c24" stroke-width="1.4" stroke-linejoin="miter" />
<line x1="677.8" y1="412.2" x2="673.0" y2="423.0" stroke="#1c1c24" stroke-width="1.4" />
<line x1="675.3" y1="411.0" x2="670.5" y2="421.8" stroke="#1c1c24" stroke-width="1.4" />
<text x="671.7" y="430.4" font-family='"Liberation Sans", sans-serif' font-size="10.5" font-weight="bold" fill="#1c1c24" text-anchor="middle" >O</text>
<text x="688.0" y="411.1" font-family='"Liberation Sans", sans-serif' font-size="10.5" font-weight="bold" fill="#1c1c24" text-anchor="middle" >N</text>
<polyline points="690.0,403.0 691.5,392.9 707.4,388.3" fill="none" stroke="#1c1c24" stroke-width="1.4" stroke-linejoin="miter" />
<line x1="707.4" y1="388.3" x2="709.0" y2="378.0" stroke="#1c1c24" stroke-width="1.4" />
<line x1="707.4" y1="388.3" x2="714.5" y2="395.5" stroke="#1c1c24" stroke-width="1.4" />
<line x1="709.5" y1="386.5" x2="716.0" y2="393.5" stroke="#1c1c24" stroke-width="1.4" />
<text x="709.7" y="376.9" font-family='"Liberation Sans", sans-serif' font-size="10.5" font-weight="bold" fill="#1c1c24" text-anchor="middle" >O</text>
<text x="723.4" y="372.4" font-family='"Liberation Sans", sans-serif' font-size="10.5" font-weight="bold" fill="#1c1c24" text-anchor="middle" >H</text>
<line x1="713.0" y1="372.0" x2="719.5" y2="370.0" stroke="#1c1c24" stroke-width="1.4" />
<text x="717.7" y="402.0" font-family='"Liberation Sans", sans-serif' font-size="10.5" font-weight="bold" fill="#1c1c24" text-anchor="middle" >O</text>
<line x1="692.0" y1="411.0" x2="697.5" y2="415.0" stroke="#1c1c24" stroke-width="1.4" />
<text x="700.6" y="421.4" font-family='"Liberation Sans", sans-serif' font-size="10.5" font-weight="bold" fill="#1c1c24" text-anchor="middle" >H</text>
<line x1="671.7" y1="431.5" x2="673.8" y2="443.0" stroke="#e0708a" stroke-width="1.8" stroke-dasharray="1.6 1.2"/>
<line x1="700.6" y1="422.0" x2="702.5" y2="432.0" stroke="#e0708a" stroke-width="1.8" stroke-dasharray="1.6 1.2"/>
<text x="674.4" y="450.9" font-family='"Liberation Sans", sans-serif' font-size="10.5" font-weight="bold" fill="#1c1c24" text-anchor="middle" >H</text>
<line x1="678.0" y1="449.5" x2="684.0" y2="453.5" stroke="#1c1c24" stroke-width="1.4" />
<text x="687.0" y="460.0" font-family='"Liberation Sans", sans-serif' font-size="10.5" font-weight="bold" fill="#1c1c24" text-anchor="middle" >N</text>
<polyline points="691.0,453.5 701.7,449.8 712.0,460.0" fill="none" stroke="#1c1c24" stroke-width="1.4" stroke-linejoin="miter" />
<line x1="701.7" y1="449.8" x2="702.0" y2="440.0" stroke="#1c1c24" stroke-width="1.4" />
<line x1="704.4" y1="449.2" x2="704.7" y2="440.0" stroke="#1c1c24" stroke-width="1.4" />
<text x="702.9" y="439.4" font-family='"Liberation Sans", sans-serif' font-size="10.5" font-weight="bold" fill="#1c1c24" text-anchor="middle" >O</text>
<polyline points="686.0,461.0 684.7,470.3 671.0,477.1 667.0,488.0" fill="none" stroke="#1c1c24" stroke-width="1.4" stroke-linejoin="miter" />
<line x1="671.0" y1="477.1" x2="662.5" y2="471.5" stroke="#1c1c24" stroke-width="1.4" />
<line x1="669.5" y1="479.6" x2="661.0" y2="474.0" stroke="#1c1c24" stroke-width="1.4" />
<text x="659.6" y="471.4" font-family='"Liberation Sans", sans-serif' font-size="10.5" font-weight="bold" fill="#1c1c24" text-anchor="middle" >O</text>
<text x="666.4" y="495.5" font-family='"Liberation Sans", sans-serif' font-size="10.5" font-weight="bold" fill="#1c1c24" text-anchor="middle" >HO</text>
<line x1="727.5" y1="369.0" x2="741.0" y2="369.0" stroke="#e0708a" stroke-width="1.8" stroke-dasharray="1.6 1.2"/>
<line x1="722.0" y1="398.6" x2="737.5" y2="398.6" stroke="#e0708a" stroke-width="1.8" stroke-dasharray="1.6 1.2"/>
<text x="745.0" y="372.4" font-family='"Liberation Sans", sans-serif' font-size="10.5" font-weight="bold" fill="#1c1c24" text-anchor="middle" >O</text>
<polyline points="748.5,371.0 755.3,378.0" fill="none" stroke="#1c1c24" stroke-width="1.4" stroke-linejoin="miter" />
<line x1="747.0" y1="373.5" x2="753.5" y2="380.5" stroke="#1c1c24" stroke-width="1.4" />
<line x1="755.3" y1="378.0" x2="755.3" y2="389.0" stroke="#1c1c24" stroke-width="1.4" />
<text x="755.3" y="396.3" font-family='"Liberation Sans", sans-serif' font-size="10.5" font-weight="bold" fill="#1c1c24" text-anchor="middle" >O</text>
<text x="741.6" y="402.0" font-family='"Liberation Sans", sans-serif' font-size="10.5" font-weight="bold" fill="#1c1c24" text-anchor="middle" >H</text>
<line x1="745.0" y1="397.5" x2="751.5" y2="394.5" stroke="#1c1c24" stroke-width="1.4" />
<polyline points="755.3,378.0 772.3,372.4 779.5,377.5" fill="none" stroke="#1c1c24" stroke-width="1.4" stroke-linejoin="miter" />
<text x="782.6" y="383.8" font-family='"Liberation Sans", sans-serif' font-size="10.5" font-weight="bold" fill="#1c1c24" text-anchor="middle" >N</text>
<line x1="781.5" y1="384.5" x2="780.0" y2="391.0" stroke="#1c1c24" stroke-width="1.4" />
<text x="779.2" y="398.6" font-family='"Liberation Sans", sans-serif' font-size="10.5" font-weight="bold" fill="#1c1c24" text-anchor="middle" >H</text>
<polyline points="786.0,377.5 797.4,372.4 797.4,361.0" fill="none" stroke="#1c1c24" stroke-width="1.4" stroke-linejoin="miter" />
<line x1="797.4" y1="372.4" x2="805.5" y2="379.0" stroke="#1c1c24" stroke-width="1.4" />
<line x1="799.5" y1="370.0" x2="807.0" y2="376.5" stroke="#1c1c24" stroke-width="1.4" />
<text x="807.6" y="386.0" font-family='"Liberation Sans", sans-serif' font-size="10.5" font-weight="bold" fill="#1c1c24" text-anchor="middle" >O</text>
<line x1="808.8" y1="387.0" x2="813.2" y2="396.5" stroke="#e0708a" stroke-width="1.8" stroke-dasharray="1.6 1.2"/>
<line x1="779.5" y1="399.5" x2="786.8" y2="409.0" stroke="#e0708a" stroke-width="1.8" stroke-dasharray="1.6 1.2"/>
<text x="814.5" y="404.2" font-family='"Liberation Sans", sans-serif' font-size="10.5" font-weight="bold" fill="#1c1c24" text-anchor="middle" >H</text>
<line x1="814.5" y1="404.5" x2="814.5" y2="412.5" stroke="#1c1c24" stroke-width="1.4" />
<text x="814.5" y="420.2" font-family='"Liberation Sans", sans-serif' font-size="10.5" font-weight="bold" fill="#1c1c24" text-anchor="middle" >O</text>
<text x="788.3" y="416.8" font-family='"Liberation Sans", sans-serif' font-size="10.5" font-weight="bold" fill="#1c1c24" text-anchor="middle" >O</text>
<polyline points="791.5,416.5 800.8,423.6 810.5,419.0" fill="none" stroke="#1c1c24" stroke-width="1.4" stroke-linejoin="miter" />
<line x1="790.5" y1="418.8" x2="798.5" y2="425.5" stroke="#1c1c24" stroke-width="1.4" />
<polyline points="800.8,423.6 799.7,438.4 809.0,443.5" fill="none" stroke="#1c1c24" stroke-width="1.4" stroke-linejoin="miter" />
<text x="816.5" y="449.8" font-family='"Liberation Sans", sans-serif' font-size="10.5" font-weight="bold" fill="#1c1c24" text-anchor="middle" >NH</text>
<polyline points="812.0,451.0 810.0,460.0 822.4,469.2" fill="none" stroke="#1c1c24" stroke-width="1.4" stroke-linejoin="miter" />
<line x1="810.0" y1="460.0" x2="801.0" y2="465.5" stroke="#1c1c24" stroke-width="1.4" />
<line x1="811.5" y1="462.5" x2="802.5" y2="468.0" stroke="#1c1c24" stroke-width="1.4" />
<text x="797.4" y="471.4" font-family='"Liberation Sans", sans-serif' font-size="10.5" font-weight="bold" fill="#1c1c24" text-anchor="middle" >O</text>
</g>
<g filter="url(#sb)"><polygon points="729.0,336 744.0,336 741.0,345.5 732.0,345.5" fill="#b89ad8"/>
<line x1="729.55" y1="336.0" x2="743.45" y2="336.0" stroke="#6e2ea0" stroke-width="2.5" stroke-linecap="round"/>
<line x1="731.55" y1="340.6" x2="741.45" y2="340.6" stroke="#6e2ea0" stroke-width="2.5" stroke-linecap="round"/>
<line x1="733.15" y1="345.2" x2="739.85" y2="345.2" stroke="#6e2ea0" stroke-width="2.5" stroke-linecap="round"/>
</g>
<rect x="873.2" y="360.8" width="187.1" height="142.7" rx="17" fill="#a6d595"/>
<g clip-path="url(#pg)">
<path d="M871,408 C877,400 883,393 889,389 C895,385 901,382 908,380 C917,377 926,373 934.4,370.4 C944,367 952,364 962,361" fill="none" stroke="#bf1d22" stroke-width="2.6"/>
<path d="M984.8,360 C988,365 992,371 996.8,371.6 C1001,372 1004,367 1008.8,366.8 C1014,366 1019,364 1023.1,365.6 C1028,368 1030,370 1032.7,372.8 C1035,377 1037,382 1039.9,383.6 C1044,385 1047,383 1049.5,384.8 C1053,388 1056,398 1062,406" fill="none" stroke="#bf1d22" stroke-width="2.6"/>
<path d="M871,465 C876,468 881,478 886.4,476 C891,474 894,464 898.4,464 C902,465 903,480 905.6,483.1 C909,486 913,478 917.6,477.2 C923,477 927,486 932,485.5 C936,485 940,479 944,479.5 C949,481 952,489 956,492.7 C959,496 961,500 964,504" fill="none" stroke="#bf1d22" stroke-width="2.6"/>
<path d="M990,505 C993,498 996,492 999.2,488 C1002,484 1005,482 1008.8,480.7 C1012,479 1016,479 1018.4,477.2 C1022,473 1022,465 1025.5,461.6 C1028,458 1031,456 1035.1,454.4 C1040,452 1043,450 1047.1,448.4 C1051,446 1055,444 1062,441" fill="none" stroke="#bf1d22" stroke-width="2.6"/>
<line x1="934.4" y1="370.4" x2="929.6" y2="390.8" stroke="#1c1c24" stroke-width="1.9" />
<line x1="929.6" y1="390.8" x2="913.0" y2="396.0" stroke="#1c1c24" stroke-width="1.9" />
<text x="909.2" y="401.6" font-family='"Liberation Sans", sans-serif' font-size="14" font-weight="bold" fill="#1c1c24" text-anchor="middle" >O</text>
<line x1="929.6" y1="390.8" x2="939.5" y2="401.0" stroke="#1c1c24" stroke-width="1.9" />
<line x1="931.8" y1="388.8" x2="941.5" y2="399.0" stroke="#1c1c24" stroke-width="1.9" />
<text x="942.8" y="411.2" font-family='"Liberation Sans", sans-serif' font-size="14" font-weight="bold" fill="#1c1c24" text-anchor="middle" >O</text>
<line x1="907.0" y1="401.0" x2="905.0" y2="411.0" stroke="#1c1c24" stroke-width="1.9" />
<text x="903.2" y="422.0" font-family='"Liberation Sans", sans-serif' font-size="14" font-weight="bold" fill="#1c1c24" text-anchor="middle" >H</text>
<line x1="904.5" y1="421.5" x2="908.5" y2="438.0" stroke="#c89a5a" stroke-width="2" stroke-dasharray="1.8 1.2"/>
<line x1="944.0" y1="410.5" x2="949.5" y2="429.0" stroke="#c89a5a" stroke-width="2" stroke-dasharray="1.8 1.2"/>
<text x="951.2" y="440.0" font-family='"Liberation Sans", sans-serif' font-size="14" font-weight="bold" fill="#1c1c24" text-anchor="middle" >H</text>
<line x1="950.0" y1="439.5" x2="947.5" y2="449.0" stroke="#1c1c24" stroke-width="1.9" />
<text x="945.2" y="459.2" font-family='"Liberation Sans", sans-serif' font-size="14" font-weight="bold" fill="#1c1c24" text-anchor="middle" >O</text>
<text x="910.4" y="448.4" font-family='"Liberation Sans", sans-serif' font-size="14" font-weight="bold" fill="#1c1c24" text-anchor="middle" >O</text>
<line x1="913.0" y1="448.0" x2="921.5" y2="456.5" stroke="#1c1c24" stroke-width="1.9" />
<line x1="915.5" y1="446.5" x2="923.5" y2="455.0" stroke="#1c1c24" stroke-width="1.9" />
<line x1="923.6" y1="458.0" x2="941.0" y2="455.0" stroke="#1c1c24" stroke-width="1.9" />
<line x1="923.6" y1="458.0" x2="917.6" y2="477.2" stroke="#1c1c24" stroke-width="1.9" />
<line x1="995.6" y1="371.6" x2="1002.8" y2="390.8" stroke="#1c1c24" stroke-width="1.9" />
<line x1="1002.8" y1="390.8" x2="1019.0" y2="395.0" stroke="#1c1c24" stroke-width="1.9" />
<text x="1023.1" y="400.4" font-family='"Liberation Sans", sans-serif' font-size="14" font-weight="bold" fill="#1c1c24" text-anchor="middle" >O</text>
<line x1="1002.8" y1="390.8" x2="991.5" y2="402.0" stroke="#1c1c24" stroke-width="1.9" />
<line x1="1000.5" y1="388.8" x2="989.5" y2="400.0" stroke="#1c1c24" stroke-width="1.9" />
<text x="988.4" y="411.2" font-family='"Liberation Sans", sans-serif' font-size="14" font-weight="bold" fill="#1c1c24" text-anchor="middle" >O</text>
<line x1="1025.0" y1="400.0" x2="1027.5" y2="410.0" stroke="#1c1c24" stroke-width="1.9" />
<text x="1029.1" y="420.8" font-family='"Liberation Sans", sans-serif' font-size="14" font-weight="bold" fill="#1c1c24" text-anchor="middle" >H</text>
<line x1="1029.0" y1="420.0" x2="1028.2" y2="437.5" stroke="#c89a5a" stroke-width="2" stroke-dasharray="1.8 1.2"/>
<line x1="988.4" y1="411.0" x2="988.4" y2="427.0" stroke="#c89a5a" stroke-width="2" stroke-dasharray="1.8 1.2"/>
<text x="988.4" y="437.6" font-family='"Liberation Sans", sans-serif' font-size="14" font-weight="bold" fill="#1c1c24" text-anchor="middle" >H</text>
<line x1="989.5" y1="437.0" x2="992.5" y2="448.0" stroke="#1c1c24" stroke-width="1.9" />
<text x="994.4" y="458.0" font-family='"Liberation Sans", sans-serif' font-size="14" font-weight="bold" fill="#1c1c24" text-anchor="middle" >O</text>
<text x="1028.0" y="448.4" font-family='"Liberation Sans", sans-serif' font-size="14" font-weight="bold" fill="#1c1c24" text-anchor="middle" >O</text>
<line x1="1025.0" y1="448.0" x2="1016.0" y2="456.0" stroke="#1c1c24" stroke-width="1.9" />
<line x1="1023.0" y1="446.5" x2="1014.0" y2="454.5" stroke="#1c1c24" stroke-width="1.9" />
<line x1="1014.8" y1="458.0" x2="998.5" y2="455.0" stroke="#1c1c24" stroke-width="1.9" />
<line x1="1014.8" y1="458.0" x2="1018.4" y2="478.4" stroke="#1c1c24" stroke-width="1.9" />
</g>
<g filter="url(#sb)"><polygon points="960.5,337.4 975.5,337.4 972.5,346.9 963.5,346.9" fill="#98c888"/>
<line x1="961.05" y1="337.4" x2="974.95" y2="337.4" stroke="#4a8a38" stroke-width="2.5" stroke-linecap="round"/>
<line x1="963.05" y1="342.0" x2="972.95" y2="342.0" stroke="#4a8a38" stroke-width="2.5" stroke-linecap="round"/>
<line x1="964.65" y1="346.59999999999997" x2="971.35" y2="346.59999999999997" stroke="#4a8a38" stroke-width="2.5" stroke-linecap="round"/>
</g>
</svg></body></html>
